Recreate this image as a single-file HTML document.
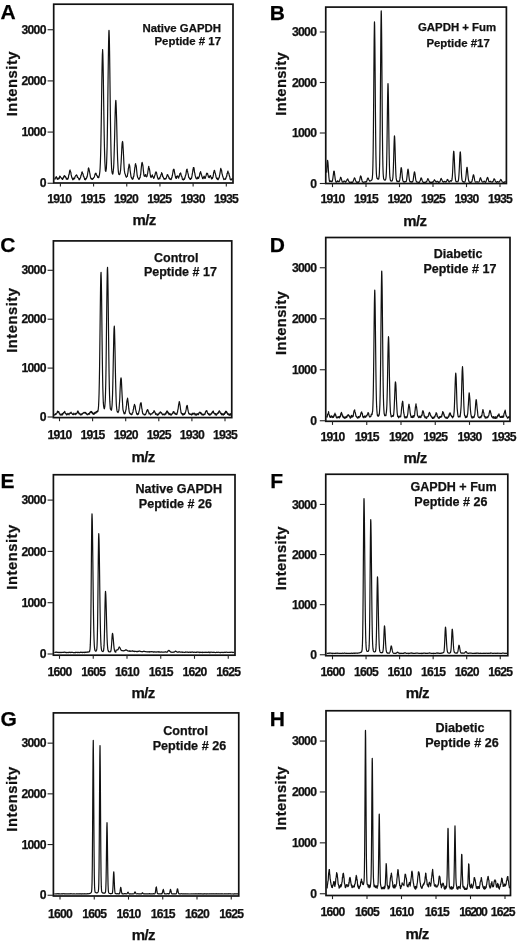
<!DOCTYPE html>
<html><head><meta charset="utf-8"><title>Figure</title>
<style>
html,body{margin:0;padding:0;background:#fff;}
body{width:520px;height:942px;overflow:hidden;font-family:"Liberation Sans",sans-serif;}
svg{display:block;will-change:transform;}
text{font-family:"Liberation Sans",sans-serif;font-weight:bold;fill:#111;stroke:#111;stroke-width:0.25px;}
.tk{font-size:12.2px;letter-spacing:-0.75px;}
.ax{font-size:14.8px;letter-spacing:0.5px;}
.mz{font-size:15px;letter-spacing:-0.6px;}
.lt{font-size:21px;fill:#000;}
.fr{fill:none;stroke:#111;stroke-width:1.7;}
.ti{stroke:#222;stroke-width:1.1;fill:none;}
.cv{fill:none;stroke:#111;stroke-width:1.2;stroke-linejoin:round;}
</style></head><body>
<svg width="520" height="942" viewBox="0 0 520 942">
<rect x="0" y="0" width="520" height="942" fill="#fff"/>

<g id="panelA">
<path class="cv" d="M54.60 179.7 54.85 179.4 55.10 178.0 55.35 178.2 55.60 177.6 55.85 178.0 56.10 177.0 56.35 176.7 56.60 178.0 56.85 177.5 57.10 178.0 57.35 179.4 57.60 178.7 57.85 179.1 58.10 178.7 58.35 179.1 58.60 178.3 58.85 177.9 59.10 178.7 59.35 178.2 59.60 176.8 59.85 176.0 60.10 177.0 60.20 176.7 60.35 176.5 60.60 177.1 60.85 177.4 61.10 177.8 61.35 178.2 61.60 178.1 61.85 178.9 62.10 179.0 62.35 178.4 62.60 179.5 62.85 178.4 63.10 177.8 63.35 178.1 63.60 177.7 63.85 176.2 64.10 176.7 64.35 176.5 64.60 175.9 64.60 175.5 64.85 176.6 65.10 176.5 65.35 177.0 65.60 176.7 65.85 177.8 66.10 177.6 66.35 179.1 66.60 179.1 66.85 178.7 67.10 178.4 67.35 179.1 67.60 179.3 67.85 179.1 68.10 178.0 68.35 177.9 68.60 175.9 68.85 174.7 69.10 174.5 69.35 173.1 69.60 171.0 69.85 170.5 70.10 170.0 70.10 170.7 70.35 171.3 70.60 171.9 70.85 172.2 71.10 174.4 71.35 175.5 71.60 176.6 71.85 177.5 72.10 178.2 72.35 177.9 72.60 179.4 72.85 179.8 73.10 178.4 73.35 178.6 73.60 178.4 73.85 179.2 74.10 178.2 74.35 177.9 74.60 178.7 74.85 177.4 75.10 176.6 75.35 176.2 75.60 175.8 75.85 175.6 76.10 175.2 76.30 175.2 76.35 175.5 76.60 174.9 76.85 175.8 77.10 175.6 77.35 177.5 77.60 176.8 77.85 177.7 78.10 177.7 78.35 178.1 78.60 178.3 78.85 179.0 79.10 179.9 79.35 178.7 79.60 179.5 79.85 179.1 80.10 178.2 80.35 178.0 80.60 177.5 80.85 175.8 81.10 175.4 81.35 174.8 81.60 173.9 81.85 172.1 82.10 172.3 82.20 171.8 82.35 172.6 82.60 173.3 82.85 173.6 83.10 174.1 83.35 176.2 83.60 176.1 83.85 176.7 84.10 177.5 84.35 177.9 84.60 179.5 84.85 178.7 85.10 178.4 85.35 179.8 85.60 179.4 85.85 179.3 86.10 178.7 86.35 178.5 86.60 178.0 86.85 176.7 87.10 177.0 87.35 175.6 87.60 174.0 87.85 172.4 88.10 170.9 88.35 168.3 88.60 167.9 88.70 169.1 88.85 168.5 89.10 169.6 89.35 170.8 89.60 172.2 89.85 173.3 90.10 174.9 90.35 176.5 90.60 177.7 90.85 178.1 91.10 178.9 91.35 178.5 91.60 178.4 91.85 179.0 92.10 179.5 92.35 179.4 92.60 179.0 92.85 178.6 93.10 178.2 93.35 178.7 93.60 177.7 93.85 177.6 94.10 177.4 94.35 176.9 94.60 175.9 94.85 174.7 95.10 174.4 95.35 173.3 95.60 173.4 95.70 173.7 95.85 173.2 96.10 173.3 96.35 174.9 96.60 175.0 96.85 175.7 97.10 175.6 97.35 176.0 97.60 177.3 97.85 176.6 98.10 176.9 98.35 177.7 98.60 177.2 98.85 177.5 99.10 175.9 99.35 175.3 99.60 173.6 99.85 171.6 100.10 168.3 100.35 162.9 100.60 155.4 100.85 145.5 101.10 131.1 101.35 115.9 101.60 97.8 101.85 79.2 102.10 65.2 102.35 54.6 102.60 50.9 102.60 49.6 102.85 54.4 103.10 64.9 103.35 78.7 103.60 97.3 103.85 113.8 104.10 130.1 104.35 143.3 104.60 153.5 104.85 161.6 105.10 166.3 105.35 170.5 105.60 170.8 105.85 171.4 106.10 170.0 106.35 168.5 106.60 163.0 106.85 155.8 107.10 147.2 107.35 133.3 107.60 116.1 107.85 96.2 108.10 76.7 108.35 57.4 108.60 41.8 108.85 32.1 109.00 30.4 109.10 31.6 109.35 39.2 109.60 53.7 109.85 72.6 110.10 93.1 110.35 113.5 110.60 130.3 110.85 143.7 111.10 155.4 111.35 162.5 111.60 168.5 111.85 170.9 112.10 172.6 112.35 173.6 112.60 174.1 112.85 173.8 113.10 172.4 113.35 169.9 113.60 167.8 113.85 163.1 114.10 155.3 114.35 146.5 114.60 137.2 114.85 126.5 115.10 115.7 115.35 107.8 115.60 102.2 115.80 100.8 115.85 100.3 116.10 103.9 116.35 111.1 116.60 120.0 116.85 130.4 117.10 142.0 117.35 150.8 117.60 159.0 117.85 164.0 118.10 168.5 118.35 171.6 118.60 173.3 118.85 174.5 119.10 174.1 119.35 174.4 119.60 174.6 119.85 173.9 120.10 173.3 120.35 171.3 120.60 170.2 120.85 165.9 121.10 162.7 121.35 157.8 121.60 153.0 121.85 147.6 122.10 143.8 122.35 142.0 122.50 141.7 122.60 141.5 122.85 143.2 123.10 147.6 123.35 151.8 123.60 156.7 123.85 162.4 124.10 167.1 124.35 170.4 124.60 172.0 124.85 173.5 125.10 173.9 125.35 174.5 125.60 175.8 125.85 176.3 126.10 176.7 126.35 177.3 126.60 176.7 126.85 176.5 127.10 176.0 127.35 176.3 127.60 174.0 127.85 173.3 128.10 171.1 128.35 168.6 128.60 167.6 128.85 166.1 129.10 164.1 129.20 164.9 129.35 165.0 129.60 165.6 129.85 167.1 130.10 170.3 130.35 171.9 130.60 173.7 130.85 175.3 131.10 177.0 131.35 177.3 131.60 177.3 131.85 178.6 132.10 178.5 132.35 179.3 132.60 179.0 132.85 178.2 133.10 178.8 133.35 177.0 133.60 176.2 133.85 176.3 134.10 173.4 134.35 172.4 134.60 169.6 134.85 167.4 135.10 166.2 135.35 164.3 135.60 163.8 135.60 163.6 135.85 164.9 136.10 165.5 136.35 167.1 136.60 169.8 136.85 172.2 137.10 174.8 137.35 175.8 137.60 177.2 137.85 177.4 138.10 178.0 138.35 178.4 138.60 179.2 138.85 178.5 139.10 178.5 139.35 179.1 139.60 177.7 139.85 177.6 140.10 177.7 140.35 175.2 140.60 174.9 140.85 172.6 141.10 169.6 141.35 167.3 141.60 165.1 141.85 163.1 142.10 162.4 142.20 162.6 142.35 163.0 142.60 164.3 142.85 165.2 143.10 167.5 143.35 170.3 143.60 172.2 143.85 174.6 144.10 175.9 144.35 176.2 144.60 175.4 144.85 176.3 145.10 175.1 145.35 175.2 145.60 174.5 145.85 175.7 146.10 176.4 146.35 176.8 146.60 176.8 146.85 176.2 147.10 176.1 147.35 174.1 147.60 173.8 147.85 171.7 148.10 170.3 148.35 168.7 148.60 166.7 148.80 166.5 148.85 167.4 149.10 168.0 149.35 168.8 149.60 169.9 149.85 171.6 150.10 173.5 150.35 175.2 150.60 176.9 150.85 177.1 151.10 177.5 151.35 176.6 151.60 175.9 151.85 175.9 152.10 175.6 152.35 174.9 152.60 176.7 152.85 176.2 153.10 176.8 153.35 177.3 153.60 178.5 153.85 178.2 154.10 177.8 154.35 177.1 154.60 175.8 154.85 175.3 155.10 174.9 155.35 173.0 155.60 172.8 155.85 172.1 156.00 171.8 156.10 173.0 156.35 172.2 156.60 173.1 156.85 174.4 157.10 175.4 157.35 176.5 157.60 177.8 157.85 177.9 158.10 179.2 158.35 178.7 158.60 178.7 158.85 179.0 159.10 178.8 159.35 178.0 159.60 177.8 159.85 178.6 160.10 176.9 160.35 176.4 160.60 176.4 160.85 175.1 161.10 174.5 161.35 174.2 161.60 173.3 161.60 172.6 161.85 173.8 162.10 173.5 162.35 174.5 162.60 176.3 162.85 176.0 163.10 177.2 163.35 177.3 163.60 178.1 163.85 178.4 164.10 179.3 164.35 178.6 164.60 178.5 164.85 178.5 165.10 179.1 165.35 178.4 165.60 178.6 165.85 178.8 166.10 178.4 166.35 177.7 166.60 176.8 166.85 176.3 167.10 175.2 167.35 174.5 167.50 174.7 167.60 175.0 167.85 174.8 168.10 175.9 168.35 176.3 168.60 176.5 168.85 177.7 169.10 178.6 169.35 177.8 169.60 178.4 169.85 179.2 170.10 179.3 170.35 179.1 170.60 178.9 170.85 179.5 171.10 179.6 171.35 179.0 171.60 177.6 171.85 177.9 172.10 176.4 172.35 175.5 172.60 174.0 172.85 172.5 173.10 170.6 173.35 169.8 173.60 169.4 173.70 169.2 173.85 169.3 174.10 169.5 174.35 171.4 174.60 173.0 174.85 173.9 175.10 175.4 175.35 176.1 175.60 178.0 175.85 177.9 176.10 178.0 176.35 178.4 176.60 176.4 176.85 177.0 177.10 176.7 177.35 175.8 177.60 176.5 177.85 176.2 178.10 177.2 178.35 177.9 178.60 178.1 178.85 176.8 179.10 176.9 179.35 175.3 179.60 175.0 179.85 173.5 180.10 173.9 180.35 173.7 180.40 173.7 180.60 172.9 180.85 173.7 181.10 174.9 181.35 176.2 181.60 176.1 181.85 176.5 182.10 177.7 182.35 179.2 182.60 179.5 182.85 179.6 183.10 179.6 183.35 179.9 183.60 179.9 183.85 178.9 184.10 178.4 184.35 179.4 184.60 177.9 184.85 178.3 185.10 177.1 185.35 176.1 185.60 175.0 185.85 175.1 186.10 173.2 186.35 171.4 186.60 169.7 186.85 170.4 187.00 170.0 187.10 169.1 187.35 170.9 187.60 171.5 187.85 172.9 188.10 173.8 188.35 174.7 188.60 177.1 188.85 177.1 189.10 177.7 189.35 178.0 189.60 178.7 189.85 178.3 190.10 179.3 190.35 179.2 190.60 179.4 190.85 178.4 191.10 178.6 191.35 178.6 191.60 178.1 191.85 176.3 192.10 175.2 192.35 173.6 192.60 172.4 192.85 170.5 193.10 169.5 193.35 167.5 193.60 168.3 193.60 167.5 193.85 167.5 194.10 168.6 194.35 171.1 194.60 172.6 194.85 173.3 195.10 175.2 195.35 176.0 195.60 176.9 195.85 178.2 196.10 177.8 196.35 178.2 196.60 178.8 196.85 178.6 197.10 178.8 197.35 178.1 197.60 177.1 197.85 178.5 198.10 177.8 198.35 178.5 198.60 178.3 198.85 177.0 199.10 176.9 199.35 176.3 199.60 175.1 199.85 173.3 200.10 172.6 200.35 173.1 200.50 172.6 200.60 171.5 200.85 173.1 201.10 173.3 201.35 174.5 201.60 175.0 201.85 176.2 202.10 176.8 202.35 177.7 202.60 178.6 202.85 178.6 203.10 178.6 203.35 177.0 203.60 177.8 203.85 177.7 204.10 176.2 204.35 177.7 204.60 176.9 204.85 178.5 205.10 177.9 205.35 178.1 205.60 176.7 205.85 176.3 206.10 175.5 206.35 174.4 206.60 173.4 206.85 173.8 207.10 173.2 207.10 173.4 207.35 174.1 207.60 173.5 207.85 174.7 208.10 175.1 208.35 176.9 208.60 177.0 208.85 177.4 209.10 177.0 209.35 177.7 209.60 176.7 209.85 175.9 210.10 176.3 210.35 175.6 210.60 175.8 210.85 177.0 211.10 177.4 211.35 178.1 211.60 179.0 211.85 178.9 212.10 177.7 212.35 178.5 212.60 177.7 212.85 177.5 213.10 176.3 213.35 175.2 213.60 172.7 213.85 171.9 214.10 170.9 214.35 170.3 214.40 170.9 214.60 170.6 214.85 171.9 215.10 173.1 215.35 173.4 215.60 174.7 215.85 175.7 216.10 177.4 216.35 177.6 216.60 178.6 216.85 178.0 217.10 178.3 217.35 179.4 217.60 178.4 217.85 179.6 218.10 179.7 218.35 178.5 218.60 178.9 218.85 178.1 219.10 177.2 219.35 177.2 219.60 174.9 219.85 174.2 220.10 172.3 220.35 171.0 220.60 169.1 220.85 168.3 221.00 169.0 221.10 169.3 221.35 169.6 221.60 170.6 221.85 172.6 222.10 174.1 222.35 174.6 222.60 176.0 222.85 176.5 223.10 177.3 223.35 177.9 223.60 179.0 223.85 179.6 224.10 179.4 224.35 179.2 224.60 179.2 224.85 179.1 225.10 179.3 225.35 178.4 225.60 179.1 225.85 178.5 226.10 177.3 226.35 176.7 226.60 176.6 226.85 175.5 227.10 173.4 227.35 173.5 227.60 172.4 227.85 171.2 228.00 171.1 228.10 171.7 228.35 172.4 228.60 173.0 228.85 173.2 229.10 175.0 229.35 175.3 229.60 176.6 229.85 177.1 230.10 179.2 230.35 179.3 230.60 179.8 230.85 179.3 231.10 179.5 231.35 179.9 231.60 179.0 231.85 179.4 232.10 178.7 232.35 178.2"/>
<rect class="fr" x="53.70" y="4.20" width="179.30" height="178.80"/>
<line class="ti" x1="47.60" y1="183.25" x2="53.70" y2="183.25"/>
<text class="tk" x="45.70" y="187.35" text-anchor="end">0</text>
<line class="ti" x1="47.60" y1="132.08" x2="53.70" y2="132.08"/>
<text class="tk" x="45.70" y="136.18" text-anchor="end">1000</text>
<line class="ti" x1="47.60" y1="80.91" x2="53.70" y2="80.91"/>
<text class="tk" x="45.70" y="85.01" text-anchor="end">2000</text>
<line class="ti" x1="47.60" y1="29.74" x2="53.70" y2="29.74"/>
<text class="tk" x="45.70" y="33.84" text-anchor="end">3000</text>
<line class="ti" x1="60.40" y1="183.00" x2="60.40" y2="186.60"/>
<text class="tk" x="59.30" y="202.50" text-anchor="middle">1910</text>
<line class="ti" x1="93.58" y1="183.00" x2="93.58" y2="186.60"/>
<text class="tk" x="92.63" y="202.50" text-anchor="middle">1915</text>
<line class="ti" x1="126.76" y1="183.00" x2="126.76" y2="186.60"/>
<text class="tk" x="125.96" y="202.50" text-anchor="middle">1920</text>
<line class="ti" x1="159.94" y1="183.00" x2="159.94" y2="186.60"/>
<text class="tk" x="159.29" y="202.50" text-anchor="middle">1925</text>
<line class="ti" x1="193.12" y1="183.00" x2="193.12" y2="186.60"/>
<text class="tk" x="192.62" y="202.50" text-anchor="middle">1930</text>
<line class="ti" x1="226.30" y1="183.00" x2="226.30" y2="186.60"/>
<text class="tk" x="225.95" y="202.50" text-anchor="middle">1935</text>
<text x="221.00" y="31.70" font-size="11.40" text-anchor="end">Native GAPDH</text>
<text x="221.00" y="44.70" font-size="11.40" text-anchor="end">Peptide # 17</text>
<text class="mz" x="144.15" y="225.00" text-anchor="middle">m/z</text>
<text class="lt" x="0.50" y="19.10">A</text>
<text class="ax" style="letter-spacing:0.50px" transform="translate(17.00 83.60) rotate(-90)" text-anchor="middle">Intensity</text>
</g>
<g id="panelB">
<path class="cv" d="M326.65 172.6 326.90 168.3 327.15 164.1 327.40 161.6 327.60 160.3 327.65 160.8 327.90 162.1 328.15 165.5 328.40 170.2 328.65 173.8 328.90 177.2 329.15 179.3 329.40 180.9 329.65 181.5 329.90 181.6 330.15 181.1 330.40 181.3 330.65 180.9 330.90 180.9 331.15 181.0 331.40 181.6 331.65 181.7 331.90 181.6 332.15 181.3 332.40 181.1 332.65 179.7 332.90 178.1 333.15 176.0 333.40 174.3 333.65 171.8 333.90 171.2 334.00 171.0 334.15 171.0 334.40 172.2 334.65 174.6 334.90 176.5 335.15 178.6 335.40 180.2 335.65 181.2 335.90 181.8 336.15 182.1 336.40 182.2 336.65 181.8 336.90 181.5 337.15 181.7 337.40 181.5 337.65 180.8 337.90 181.0 338.15 181.3 338.40 181.6 338.65 181.6 338.90 181.6 339.15 181.6 339.40 181.3 339.65 180.8 339.90 179.5 340.15 179.0 340.40 178.0 340.65 177.3 340.75 177.6 340.90 177.4 341.15 177.9 341.40 178.9 341.65 179.8 341.90 181.0 342.15 181.4 342.40 182.0 342.65 181.8 342.90 182.2 343.15 182.1 343.40 181.7 343.65 181.5 343.90 181.2 344.15 181.2 344.40 181.1 344.65 181.1 344.90 181.5 345.15 181.9 345.40 182.0 345.65 182.2 345.90 181.9 346.15 181.3 346.40 180.9 346.65 180.5 346.90 179.9 347.15 179.4 347.40 179.2 347.50 179.1 347.65 178.9 347.90 179.2 348.15 180.1 348.40 180.5 348.65 181.1 348.90 181.6 349.15 181.9 349.40 182.0 349.65 182.3 349.90 182.2 350.15 182.4 350.40 182.3 350.65 182.2 350.90 182.2 351.15 182.4 351.40 182.1 351.65 182.2 351.90 182.2 352.15 182.5 352.40 182.2 352.65 182.2 352.90 181.7 353.15 181.4 353.40 180.6 353.65 179.9 353.90 179.0 354.15 178.5 354.40 177.9 354.50 177.8 354.65 177.9 354.90 178.6 355.15 179.1 355.40 180.0 355.65 180.8 355.90 181.2 356.15 181.6 356.40 182.1 356.65 182.2 356.90 182.4 357.15 182.1 357.40 182.0 357.65 182.3 357.90 182.2 358.15 182.1 358.40 182.1 358.65 182.3 358.90 181.8 359.15 181.5 359.40 180.9 359.65 180.2 359.90 178.9 360.15 177.5 360.40 176.5 360.65 175.9 360.75 176.2 360.90 176.2 361.15 176.8 361.40 177.8 361.65 179.3 361.90 180.1 362.15 181.0 362.40 181.8 362.65 181.9 362.90 182.2 363.15 182.3 363.40 182.3 363.65 182.2 363.90 182.2 364.15 182.1 364.40 182.1 364.65 181.8 364.90 181.8 365.15 181.8 365.40 181.8 365.65 182.1 365.90 181.7 366.15 182.1 366.40 181.7 366.65 181.4 366.90 180.7 367.15 180.1 367.40 178.9 367.65 178.5 367.90 178.3 368.00 177.9 368.15 178.2 368.40 178.4 368.65 179.2 368.90 179.8 369.15 180.2 369.40 180.7 369.65 181.1 369.90 180.9 370.15 180.9 370.40 180.9 370.65 180.9 370.90 180.5 371.15 180.5 371.40 180.2 371.65 180.0 371.90 179.8 372.15 179.1 372.40 176.9 372.65 173.5 372.90 165.8 373.15 151.9 373.40 130.5 373.65 101.9 373.90 69.1 374.15 39.9 374.40 23.6 374.50 21.9 374.65 25.6 374.90 45.3 375.15 75.3 375.40 107.8 375.65 134.9 375.90 154.6 376.15 167.0 376.40 173.7 376.65 176.5 376.90 178.0 377.15 178.6 377.40 178.8 377.65 178.6 377.90 179.0 378.15 179.2 378.40 179.1 378.65 179.1 378.90 178.0 379.15 176.2 379.40 172.3 379.65 163.8 379.90 149.3 380.15 126.9 380.40 95.9 380.65 61.3 380.90 30.0 381.15 12.3 381.25 10.9 381.40 14.7 381.65 35.9 381.90 67.9 382.15 102.8 382.40 131.9 382.65 153.1 382.90 166.1 383.15 173.3 383.40 176.8 383.65 178.8 383.90 179.2 384.15 179.8 384.40 179.9 384.65 180.1 384.90 180.2 385.15 180.0 385.40 179.9 385.65 179.5 385.90 178.3 386.15 176.1 386.40 171.7 386.65 163.3 386.90 150.1 387.15 132.3 387.40 112.4 387.65 94.9 387.90 85.0 388.00 83.6 388.15 86.0 388.40 98.0 388.65 116.6 388.90 136.4 389.15 153.4 389.40 165.3 389.65 173.1 389.90 177.2 390.15 179.0 390.40 180.3 390.65 180.7 390.90 180.6 391.15 181.2 391.40 180.8 391.65 180.9 391.90 181.0 392.15 180.9 392.40 180.2 392.65 179.0 392.90 177.3 393.15 173.2 393.40 167.1 393.65 158.9 393.90 149.6 394.15 141.4 394.40 136.4 394.50 135.9 394.65 137.3 394.90 142.9 395.15 151.3 395.40 160.6 395.65 168.6 395.90 174.7 396.15 177.9 396.40 179.6 396.65 180.6 396.90 181.2 397.15 181.7 397.40 181.2 397.65 181.6 397.90 181.3 398.15 181.2 398.40 181.4 398.65 181.8 398.90 181.7 399.15 181.2 399.40 181.3 399.65 180.3 399.90 179.0 400.15 177.2 400.40 174.3 400.65 171.8 400.90 169.2 401.15 167.7 401.25 167.7 401.40 168.0 401.65 169.4 401.90 172.0 402.15 174.8 402.40 177.7 402.65 179.5 402.90 180.8 403.15 181.3 403.40 181.7 403.65 181.6 403.90 182.0 404.15 182.1 404.40 181.7 404.65 181.9 404.90 181.6 405.15 181.7 405.40 181.6 405.65 181.8 405.90 181.6 406.15 181.5 406.40 180.7 406.65 179.6 406.90 177.6 407.15 175.4 407.40 173.1 407.65 170.8 407.90 169.4 408.00 169.1 408.15 169.7 408.40 170.9 408.65 173.3 408.90 176.1 409.15 178.1 409.40 180.0 409.65 181.1 409.90 181.4 410.15 181.9 410.40 181.6 410.65 181.8 410.90 181.9 411.15 181.6 411.40 182.1 411.65 181.8 411.90 182.2 412.15 182.2 412.40 181.6 412.65 181.5 412.90 181.2 413.15 180.3 413.40 178.4 413.65 176.7 413.90 174.5 414.15 173.1 414.40 171.8 414.50 171.9 414.65 172.1 414.90 173.3 415.15 175.0 415.40 177.2 415.65 179.0 415.90 180.5 416.15 181.0 416.40 181.6 416.65 181.8 416.90 182.2 417.15 182.0 417.40 182.2 417.65 182.2 417.90 182.2 418.15 182.1 418.40 182.3 418.65 182.5 418.90 182.5 419.15 182.3 419.40 182.3 419.65 181.6 419.90 181.4 420.15 180.6 420.40 180.3 420.65 179.2 420.90 178.2 421.15 177.9 421.25 178.0 421.40 178.1 421.65 178.8 421.90 179.5 422.15 180.4 422.40 181.0 422.65 181.6 422.90 181.7 423.15 182.3 423.40 182.3 423.65 182.4 423.90 182.5 424.15 182.4 424.40 182.5 424.65 182.3 424.90 182.6 425.15 182.1 425.40 182.4 425.65 182.0 425.90 182.1 426.15 182.0 426.40 181.9 426.65 181.3 426.90 181.3 427.15 180.3 427.40 179.8 427.65 179.0 427.90 178.6 428.00 178.9 428.15 178.9 428.40 179.5 428.65 180.0 428.90 180.8 429.15 181.2 429.40 181.4 429.65 182.0 429.90 182.3 430.15 182.3 430.40 182.4 430.65 182.2 430.90 182.2 431.15 182.5 431.40 182.5 431.65 182.2 431.90 182.1 432.15 182.2 432.40 182.3 432.65 181.9 432.90 182.3 433.15 182.1 433.40 181.4 433.65 181.1 433.90 180.9 434.15 180.2 434.40 179.7 434.50 180.0 434.65 180.1 434.90 180.5 435.15 180.9 435.40 180.9 435.65 181.6 435.90 181.6 436.15 182.1 436.40 181.9 436.65 181.8 436.90 181.4 437.15 181.4 437.40 181.3 437.65 181.4 437.90 181.7 438.15 182.1 438.40 182.3 438.65 181.9 438.90 182.4 439.15 182.2 439.40 182.1 439.65 181.9 439.90 181.7 440.15 181.1 440.40 180.5 440.65 179.5 440.90 178.6 441.15 178.4 441.25 178.3 441.40 178.7 441.65 179.2 441.90 179.6 442.15 180.4 442.40 181.0 442.65 181.6 442.90 181.8 443.15 181.9 443.40 181.8 443.65 182.0 443.90 181.7 444.15 181.3 444.40 181.5 444.65 181.6 444.90 181.6 445.15 182.0 445.40 181.7 445.65 181.8 445.90 182.0 446.15 181.9 446.40 181.5 446.65 180.9 446.90 180.5 447.15 179.8 447.40 179.4 447.50 179.6 447.65 179.8 447.90 179.7 448.15 180.6 448.40 181.0 448.65 181.4 448.90 181.7 449.15 182.0 449.40 181.8 449.65 181.7 449.90 181.2 450.15 181.0 450.40 180.6 450.65 180.7 450.90 180.8 451.15 181.1 451.40 181.2 451.65 180.8 451.90 180.1 452.15 178.2 452.40 175.5 452.65 171.2 452.90 165.9 453.15 159.4 453.40 154.4 453.65 151.5 453.75 151.2 453.90 151.8 454.15 155.3 454.40 160.7 454.65 167.0 454.90 172.5 455.15 176.1 455.40 178.8 455.65 180.6 455.90 181.4 456.15 181.7 456.40 181.8 456.65 181.6 456.90 181.5 457.15 181.7 457.40 181.9 457.65 181.7 457.90 181.6 458.15 181.2 458.40 180.5 458.65 178.5 458.90 175.6 459.15 171.5 459.40 166.5 459.65 160.3 459.90 155.4 460.15 152.1 460.25 152.0 460.40 152.4 460.65 155.9 460.90 161.7 461.15 167.5 461.40 172.4 461.65 176.5 461.90 179.1 462.15 180.5 462.40 181.1 462.65 181.4 462.90 181.8 463.15 181.6 463.40 181.9 463.65 182.2 463.90 181.8 464.15 182.0 464.40 182.2 464.65 181.6 464.90 181.9 465.15 181.2 465.40 180.4 465.65 178.8 465.90 177.0 466.15 174.5 466.40 171.5 466.65 169.0 466.90 167.3 467.00 167.3 467.15 167.4 467.40 169.4 467.65 172.1 467.90 175.0 468.15 177.2 468.40 179.2 468.65 180.5 468.90 181.4 469.15 181.9 469.40 182.2 469.65 181.9 469.90 182.1 470.15 182.4 470.40 182.3 470.65 182.4 470.90 182.0 471.15 181.9 471.40 182.2 471.65 181.6 471.90 181.5 472.15 180.6 472.40 179.5 472.65 178.2 472.90 176.7 473.15 175.6 473.40 175.1 473.50 174.8 473.65 174.9 473.90 176.0 474.15 177.2 474.40 178.7 474.65 180.2 474.90 181.0 475.15 181.6 475.40 181.9 475.65 182.0 475.90 182.2 476.15 181.9 476.40 181.9 476.65 181.8 476.90 181.9 477.15 181.9 477.40 182.0 477.65 181.9 477.90 182.2 478.15 182.1 478.40 182.0 478.65 182.0 478.90 181.9 479.15 181.6 479.40 181.0 479.65 180.1 479.90 179.1 480.15 178.3 480.40 177.9 480.50 178.1 480.65 177.8 480.90 178.7 481.15 179.2 481.40 180.4 481.65 180.8 481.90 181.4 482.15 181.6 482.40 181.9 482.65 182.1 482.90 182.0 483.15 182.0 483.40 181.9 483.65 181.9 483.90 181.5 484.15 181.2 484.40 181.6 484.65 181.4 484.90 181.8 485.15 182.0 485.40 182.3 485.65 182.0 485.90 181.9 486.15 181.2 486.40 180.4 486.65 179.5 486.90 178.7 487.15 178.0 487.40 177.7 487.50 177.3 487.65 177.5 487.90 178.0 488.15 179.1 488.40 179.7 488.65 180.9 488.90 181.5 489.15 181.8 489.40 181.7 489.65 181.5 489.90 181.7 490.15 181.3 490.40 181.2 490.65 181.7 490.90 182.0 491.15 181.9 491.40 181.9 491.65 182.0 491.90 182.1 492.15 182.2 492.40 182.1 492.65 181.9 492.90 181.3 493.15 181.2 493.40 180.5 493.65 179.7 493.90 178.8 494.15 178.9 494.25 179.0 494.40 179.0 494.65 179.2 494.90 179.8 495.15 180.7 495.40 181.4 495.65 181.6 495.90 181.9 496.15 182.0 496.40 182.0 496.65 182.4 496.90 182.1 497.15 181.7 497.40 181.6 497.65 181.9 497.90 181.6 498.15 181.8 498.40 181.8 498.65 182.2 498.90 182.0 499.15 181.8 499.40 181.7 499.65 181.6 499.90 181.0 500.15 180.5 500.40 180.0 500.65 179.7 500.75 179.4 500.90 179.7 501.15 179.7 501.40 180.2 501.65 180.8 501.90 181.3 502.15 181.7 502.40 181.8 502.65 182.0 502.90 182.2 503.15 182.1 503.40 182.5 503.65 182.5 503.90 182.5 504.15 182.4 504.40 182.2 504.65 182.0 504.90 181.7 505.15 181.5 505.40 181.9 505.65 181.8"/>
<rect class="fr" x="325.75" y="7.10" width="180.65" height="176.40"/>
<line class="ti" x1="319.80" y1="183.50" x2="325.75" y2="183.50"/>
<text class="tk" x="316.20" y="187.60" text-anchor="end">0</text>
<line class="ti" x1="319.80" y1="133.00" x2="325.75" y2="133.00"/>
<text class="tk" x="316.20" y="137.10" text-anchor="end">1000</text>
<line class="ti" x1="319.80" y1="82.50" x2="325.75" y2="82.50"/>
<text class="tk" x="316.20" y="86.60" text-anchor="end">2000</text>
<line class="ti" x1="319.80" y1="32.00" x2="325.75" y2="32.00"/>
<text class="tk" x="316.20" y="36.10" text-anchor="end">3000</text>
<line class="ti" x1="332.50" y1="183.50" x2="332.50" y2="187.10"/>
<text class="tk" x="332.50" y="203.00" text-anchor="middle">1910</text>
<line class="ti" x1="366.00" y1="183.50" x2="366.00" y2="187.10"/>
<text class="tk" x="366.00" y="203.00" text-anchor="middle">1915</text>
<line class="ti" x1="399.50" y1="183.50" x2="399.50" y2="187.10"/>
<text class="tk" x="399.50" y="203.00" text-anchor="middle">1920</text>
<line class="ti" x1="433.00" y1="183.50" x2="433.00" y2="187.10"/>
<text class="tk" x="433.00" y="203.00" text-anchor="middle">1925</text>
<line class="ti" x1="466.50" y1="183.50" x2="466.50" y2="187.10"/>
<text class="tk" x="466.50" y="203.00" text-anchor="middle">1930</text>
<line class="ti" x1="500.00" y1="183.50" x2="500.00" y2="187.10"/>
<text class="tk" x="500.00" y="203.00" text-anchor="middle">1935</text>
<text x="457.10" y="31.00" font-size="11.40" text-anchor="middle">GAPDH + Fum</text>
<text x="458.10" y="47.00" font-size="11.40" text-anchor="middle">Peptide #17</text>
<text class="mz" x="414.85" y="225.50" text-anchor="middle">m/z</text>
<text class="lt" x="269.80" y="19.50">B</text>
<text class="ax" style="letter-spacing:0.35px" transform="translate(286.00 83.80) rotate(-90)" text-anchor="middle">Intensity</text>
</g>
<g id="panelC">
<path class="cv" d="M54.30 415.1 54.55 414.5 54.80 415.2 55.05 414.2 55.30 414.0 55.55 414.3 55.80 413.7 56.05 414.4 56.30 413.6 56.55 413.4 56.80 413.1 57.05 412.8 57.30 411.8 57.55 411.2 57.80 411.7 58.00 411.4 58.05 412.3 58.30 411.5 58.55 411.8 58.80 411.7 59.05 412.4 59.30 413.7 59.55 413.9 59.80 413.7 60.05 414.9 60.30 414.4 60.55 414.9 60.80 415.0 61.05 415.1 61.30 414.0 61.55 415.0 61.80 414.8 62.05 414.6 62.30 413.7 62.55 414.9 62.80 414.1 63.05 413.8 63.30 413.0 63.55 412.7 63.80 412.3 64.05 412.8 64.30 412.4 64.55 412.3 64.60 411.5 64.80 411.4 65.05 412.9 65.30 413.2 65.55 413.5 65.80 413.8 66.05 413.7 66.30 413.8 66.55 414.5 66.80 415.0 67.05 414.3 67.30 414.4 67.55 414.0 67.80 413.4 68.05 413.8 68.30 414.1 68.55 414.0 68.80 413.9 69.05 414.9 69.30 413.5 69.55 413.5 69.80 413.2 70.05 413.0 70.30 413.3 70.55 413.0 70.80 413.2 71.05 412.2 71.20 413.0 71.30 413.0 71.55 413.0 71.80 413.3 72.05 413.3 72.30 414.1 72.55 414.4 72.80 414.4 73.05 414.6 73.30 414.2 73.55 414.6 73.80 413.2 74.05 413.4 74.30 414.1 74.55 414.0 74.80 414.0 75.05 414.1 75.30 414.6 75.55 413.5 75.80 413.3 76.05 413.9 76.30 413.6 76.55 413.9 76.80 413.5 77.05 412.6 77.30 412.4 77.55 411.2 77.80 412.2 77.80 412.4 78.05 411.0 78.30 412.0 78.55 413.0 78.80 412.8 79.05 414.0 79.30 413.6 79.55 413.2 79.80 413.6 80.05 414.0 80.30 414.7 80.55 414.6 80.80 415.0 81.05 414.0 81.30 414.4 81.55 414.0 81.80 414.7 82.05 414.7 82.30 413.7 82.55 413.3 82.80 413.4 83.05 413.2 83.30 412.9 83.55 412.6 83.80 413.1 84.05 412.3 84.30 412.4 84.50 412.8 84.55 412.9 84.80 412.6 85.05 412.8 85.30 412.5 85.55 412.4 85.80 413.6 86.05 413.1 86.30 413.2 86.55 413.4 86.80 414.4 87.05 414.7 87.30 414.7 87.55 414.8 87.80 414.7 88.05 414.1 88.30 413.6 88.55 413.6 88.80 414.1 89.05 413.7 89.30 413.2 89.55 414.1 89.80 412.9 90.05 412.2 90.30 412.0 90.55 411.8 90.80 412.0 91.00 412.4 91.05 411.4 91.30 412.2 91.55 411.7 91.80 411.7 92.05 413.0 92.30 413.3 92.55 412.7 92.80 413.2 93.05 414.2 93.30 414.3 93.55 414.3 93.80 413.0 94.05 413.1 94.30 414.1 94.55 412.9 94.80 412.5 95.05 412.8 95.30 413.0 95.55 412.5 95.80 413.0 96.00 413.1 96.05 411.6 96.30 412.0 96.55 412.1 96.80 411.4 97.05 412.1 97.30 411.3 97.55 411.0 97.80 411.5 98.05 410.5 98.30 408.8 98.55 406.1 98.80 400.9 99.05 394.1 99.30 383.0 99.55 368.7 99.80 348.9 100.05 328.6 100.30 306.9 100.55 288.1 100.80 275.4 101.00 272.9 101.05 272.3 101.30 279.8 101.55 294.8 101.80 314.9 102.05 337.2 102.30 356.8 102.55 374.2 102.80 387.5 103.05 395.5 103.30 402.4 103.55 405.5 103.80 407.1 104.05 408.3 104.30 408.8 104.55 408.0 104.80 406.6 105.05 403.5 105.30 400.0 105.55 391.8 105.80 381.2 106.05 366.0 106.30 346.0 106.55 324.6 106.80 302.3 107.05 282.8 107.30 270.0 107.50 267.5 107.55 267.4 107.80 274.7 108.05 290.4 108.30 311.0 108.55 333.8 108.80 354.7 109.05 372.5 109.30 385.4 109.55 395.4 109.80 401.4 110.05 405.2 110.30 408.5 110.55 409.2 110.80 409.2 111.05 409.5 111.30 410.3 111.55 409.6 111.80 407.6 112.05 405.5 112.30 400.8 112.55 394.5 112.80 384.6 113.05 373.0 113.30 359.9 113.55 347.9 113.80 335.6 114.05 328.2 114.25 327.1 114.30 326.1 114.55 330.2 114.80 340.8 115.05 352.1 115.30 366.3 115.55 378.8 115.80 388.5 116.05 396.9 116.30 403.7 116.55 407.1 116.80 409.3 117.05 410.9 117.30 411.9 117.55 412.1 117.80 411.6 118.05 412.7 118.30 411.6 118.55 411.2 118.80 410.7 119.05 408.4 119.30 405.3 119.55 401.7 119.80 397.7 120.05 390.9 120.30 385.7 120.55 380.7 120.80 378.9 121.00 377.9 121.05 378.3 121.30 378.9 121.55 383.6 121.80 389.1 122.05 394.2 122.30 398.7 122.55 403.3 122.80 407.6 123.05 410.2 123.30 410.6 123.55 412.1 123.80 412.4 124.05 413.7 124.30 413.9 124.55 412.9 124.80 413.3 125.05 413.6 125.30 411.8 125.55 411.5 125.80 410.1 126.05 409.6 126.30 406.4 126.55 405.4 126.80 401.9 127.05 400.5 127.30 399.4 127.50 398.7 127.55 398.1 127.80 399.9 128.05 401.8 128.30 403.4 128.55 406.2 128.80 408.7 129.05 410.5 129.30 412.1 129.55 412.9 129.80 413.4 130.05 413.8 130.30 413.3 130.55 414.2 130.80 413.9 131.05 414.5 131.30 414.2 131.55 414.7 131.80 414.2 132.05 414.4 132.30 413.0 132.55 412.8 132.80 412.7 133.05 411.2 133.30 409.3 133.55 409.2 133.80 406.6 134.05 405.9 134.30 405.0 134.50 404.3 134.55 405.0 134.80 405.2 135.05 406.0 135.30 406.9 135.55 409.4 135.80 410.0 136.05 411.3 136.30 412.3 136.55 413.3 136.80 413.8 137.05 414.5 137.30 414.5 137.55 414.7 137.80 413.6 138.05 414.3 138.30 414.2 138.55 414.0 138.80 412.2 139.05 411.3 139.30 410.4 139.55 409.4 139.80 407.8 140.05 405.9 140.30 404.1 140.55 403.6 140.75 402.9 140.80 403.2 141.05 402.7 141.30 403.9 141.55 406.3 141.80 408.5 142.05 409.1 142.30 411.5 142.55 412.5 142.80 413.8 143.05 413.8 143.30 413.9 143.55 414.1 143.80 414.6 144.05 414.2 144.30 415.0 144.55 414.6 144.80 414.8 145.05 414.3 145.30 414.7 145.55 414.5 145.80 413.8 146.05 413.4 146.30 412.3 146.55 411.8 146.80 410.8 147.05 410.4 147.30 409.9 147.50 409.6 147.55 410.3 147.80 410.6 148.05 410.1 148.30 412.0 148.55 411.8 148.80 412.5 149.05 414.0 149.30 413.1 149.55 413.3 149.80 413.9 150.05 413.9 150.30 413.8 150.55 414.9 150.80 414.3 151.05 414.3 151.30 413.8 151.55 413.8 151.80 413.7 152.05 413.9 152.30 413.1 152.55 413.1 152.80 412.6 153.05 412.9 153.30 412.7 153.55 412.1 153.80 411.4 154.00 411.8 154.05 410.6 154.30 411.2 154.55 411.5 154.80 411.9 155.05 412.4 155.30 413.2 155.55 414.3 155.80 413.4 156.05 413.7 156.30 414.2 156.55 414.3 156.80 414.1 157.05 415.1 157.30 414.0 157.55 414.8 157.80 415.1 158.05 414.7 158.30 414.0 158.55 414.7 158.80 413.7 159.05 413.1 159.30 413.6 159.55 413.4 159.80 412.9 160.05 412.2 160.30 411.8 160.55 411.9 160.60 411.9 160.80 412.8 161.05 412.9 161.30 413.1 161.55 412.7 161.80 413.7 162.05 413.6 162.30 414.7 162.55 414.8 162.80 414.6 163.05 414.1 163.30 414.1 163.55 414.1 163.80 414.8 164.05 414.4 164.30 414.5 164.55 414.4 164.80 414.9 165.05 413.6 165.30 414.5 165.55 413.1 165.80 412.8 166.05 413.9 166.30 412.7 166.55 411.7 166.80 411.1 167.05 411.7 167.20 412.0 167.30 412.1 167.55 411.1 167.80 412.6 168.05 412.4 168.30 413.6 168.55 413.4 168.80 413.0 169.05 414.6 169.30 413.7 169.55 414.3 169.80 413.7 170.05 414.1 170.30 414.8 170.55 413.8 170.80 414.4 171.05 415.1 171.30 415.0 171.55 414.1 171.80 414.0 172.05 414.0 172.30 414.0 172.55 413.3 172.80 413.0 173.05 411.8 173.30 412.9 173.50 411.7 173.55 411.6 173.80 412.8 174.05 411.8 174.30 412.5 174.55 412.5 174.80 413.8 175.05 413.9 175.30 414.1 175.55 413.3 175.80 414.0 176.05 414.4 176.30 414.2 176.55 414.3 176.80 414.5 177.05 414.0 177.30 412.2 177.55 412.1 177.80 409.9 178.05 409.3 178.30 407.5 178.55 405.2 178.80 404.1 179.05 402.8 179.25 401.6 179.30 401.7 179.55 402.5 179.80 404.0 180.05 405.3 180.30 407.2 180.55 409.5 180.80 410.7 181.05 412.9 181.30 412.7 181.55 413.6 181.80 413.5 182.05 413.8 182.30 414.5 182.55 414.9 182.80 413.6 183.05 414.9 183.30 414.3 183.55 414.5 183.80 414.6 184.05 413.8 184.30 413.4 184.55 414.3 184.80 413.4 185.05 413.6 185.30 412.5 185.55 411.9 185.80 411.1 186.05 409.9 186.30 408.5 186.55 406.3 186.80 406.2 187.00 406.4 187.05 405.4 187.30 405.7 187.55 407.4 187.80 409.1 188.05 410.3 188.30 411.7 188.55 412.4 188.80 413.6 189.05 413.9 189.30 414.2 189.55 414.0 189.80 413.6 190.05 413.9 190.30 414.5 190.55 414.5 190.80 414.3 191.05 414.6 191.30 414.6 191.55 415.0 191.80 414.6 192.05 413.4 192.30 414.6 192.55 413.9 192.80 413.6 193.05 413.1 193.30 414.0 193.50 413.9 193.55 414.0 193.80 413.8 194.05 413.8 194.30 413.1 194.55 413.5 194.80 413.5 195.05 415.0 195.30 415.1 195.55 414.1 195.80 413.8 196.05 414.5 196.30 414.3 196.55 415.2 196.80 414.6 197.05 413.8 197.30 413.9 197.55 413.8 197.80 413.6 198.05 414.6 198.30 414.7 198.55 414.4 198.80 413.6 199.05 413.1 199.30 412.4 199.55 412.5 199.80 412.4 200.00 412.2 200.05 412.7 200.30 412.6 200.55 413.6 200.80 412.7 201.05 413.9 201.30 413.1 201.55 413.7 201.80 414.5 202.05 414.9 202.30 414.7 202.55 414.2 202.80 414.1 203.05 415.0 203.30 415.1 203.55 414.4 203.80 414.2 204.05 414.5 204.30 414.6 204.55 413.9 204.80 414.5 205.05 413.7 205.30 413.0 205.55 411.7 205.80 411.7 206.05 410.9 206.30 411.2 206.50 411.5 206.55 411.5 206.80 410.6 207.05 411.3 207.30 412.4 207.55 413.4 207.80 413.2 208.05 413.3 208.30 414.0 208.55 414.5 208.80 414.0 209.05 413.7 209.30 414.8 209.55 415.1 209.80 414.7 210.05 414.5 210.30 414.1 210.55 414.8 210.80 413.8 211.05 413.7 211.30 413.9 211.55 414.0 211.80 412.5 212.05 413.1 212.30 411.8 212.55 412.4 212.80 412.1 213.00 411.2 213.05 411.9 213.30 411.1 213.55 412.1 213.80 413.0 214.05 413.4 214.30 413.5 214.55 413.4 214.80 413.3 215.05 414.7 215.30 414.4 215.55 414.8 215.80 413.7 216.05 415.0 216.30 415.1 216.55 415.1 216.80 414.5 217.05 413.7 217.30 413.6 217.55 413.7 217.80 413.0 218.05 412.7 218.30 413.2 218.55 413.0 218.80 411.3 219.05 411.1 219.30 411.9 219.50 410.9 219.55 411.3 219.80 411.5 220.05 411.9 220.30 412.7 220.55 413.4 220.80 413.5 221.05 413.8 221.30 413.2 221.55 414.7 221.80 413.5 222.05 414.8 222.30 414.6 222.55 413.9 222.80 413.9 223.05 414.5 223.30 415.1 223.55 414.4 223.80 414.4 224.05 413.4 224.30 414.4 224.55 413.8 224.80 412.6 225.05 413.5 225.30 412.5 225.55 411.4 225.80 411.3 226.00 412.3 226.05 412.4 226.30 412.5 226.55 411.4 226.80 412.9 227.05 412.6 227.30 412.7 227.55 414.0 227.80 414.4 228.05 413.5 228.30 414.1 228.55 414.8 228.80 414.1 229.05 414.8 229.30 414.8 229.55 415.3 229.80 414.1 230.05 413.8 230.30 414.3 230.55 413.8 230.80 415.2 231.05 414.9"/>
<rect class="fr" x="53.40" y="240.90" width="178.35" height="176.70"/>
<line class="ti" x1="47.60" y1="417.00" x2="53.40" y2="417.00"/>
<text class="tk" x="45.70" y="421.10" text-anchor="end">0</text>
<line class="ti" x1="47.60" y1="368.10" x2="53.40" y2="368.10"/>
<text class="tk" x="45.70" y="372.20" text-anchor="end">1000</text>
<line class="ti" x1="47.60" y1="319.20" x2="53.40" y2="319.20"/>
<text class="tk" x="45.70" y="323.30" text-anchor="end">2000</text>
<line class="ti" x1="47.60" y1="270.30" x2="53.40" y2="270.30"/>
<text class="tk" x="45.70" y="274.40" text-anchor="end">3000</text>
<line class="ti" x1="59.50" y1="417.60" x2="59.50" y2="421.20"/>
<text class="tk" x="59.50" y="439.00" text-anchor="middle">1910</text>
<line class="ti" x1="92.60" y1="417.60" x2="92.60" y2="421.20"/>
<text class="tk" x="92.60" y="439.00" text-anchor="middle">1915</text>
<line class="ti" x1="125.70" y1="417.60" x2="125.70" y2="421.20"/>
<text class="tk" x="125.70" y="439.00" text-anchor="middle">1920</text>
<line class="ti" x1="158.80" y1="417.60" x2="158.80" y2="421.20"/>
<text class="tk" x="158.80" y="439.00" text-anchor="middle">1925</text>
<line class="ti" x1="191.90" y1="417.60" x2="191.90" y2="421.20"/>
<text class="tk" x="191.90" y="439.00" text-anchor="middle">1930</text>
<line class="ti" x1="225.00" y1="417.60" x2="225.00" y2="421.20"/>
<text class="tk" x="225.00" y="439.00" text-anchor="middle">1935</text>
<text x="176.25" y="262.00" font-size="12.50" text-anchor="middle">Control</text>
<text x="180.40" y="276.20" font-size="12.50" text-anchor="middle">Peptide # 17</text>
<text class="mz" x="143.05" y="461.75" text-anchor="middle">m/z</text>
<text class="lt" x="0.30" y="252.00">C</text>
<text class="ax" style="letter-spacing:0.50px" transform="translate(17.00 320.20) rotate(-90)" text-anchor="middle">Intensity</text>
</g>
<g id="panelD">
<path class="cv" d="M326.65 416.2 326.90 417.0 327.15 417.1 327.40 415.4 327.65 414.2 327.90 414.3 328.15 413.8 328.40 412.9 328.50 411.7 328.65 412.2 328.90 413.9 329.15 414.5 329.40 415.7 329.65 416.6 329.90 415.8 330.15 417.4 330.40 416.9 330.65 417.1 330.90 417.4 331.15 416.1 331.40 417.0 331.65 415.8 331.90 416.9 332.15 416.6 332.40 417.3 332.65 417.5 332.90 416.3 333.15 416.6 333.40 417.4 333.65 415.9 333.90 416.7 334.15 415.8 334.40 414.3 334.65 414.2 334.90 414.9 335.00 413.2 335.15 414.7 335.40 415.0 335.65 414.6 335.90 416.1 336.15 416.7 336.40 417.6 336.65 417.9 336.90 417.1 337.15 417.9 337.40 417.3 337.65 417.7 337.90 417.6 338.15 416.6 338.40 417.5 338.65 417.4 338.90 416.8 339.15 418.0 339.40 418.0 339.65 416.4 339.90 416.3 340.15 416.9 340.40 416.4 340.65 414.6 340.90 413.4 341.15 414.1 341.40 412.3 341.50 412.4 341.65 413.0 341.90 413.8 342.15 415.1 342.40 416.1 342.65 415.1 342.90 417.0 343.15 416.6 343.40 417.7 343.65 416.8 343.90 417.3 344.15 417.9 344.40 418.1 344.65 417.1 344.90 418.3 345.15 418.0 345.40 417.4 345.65 416.8 345.90 417.2 346.15 417.7 346.40 416.3 346.65 417.4 346.90 417.3 347.15 416.3 347.40 415.5 347.65 415.7 347.90 415.3 348.00 414.9 348.15 414.5 348.40 415.7 348.65 415.7 348.90 415.2 349.15 415.6 349.40 416.6 349.65 416.8 349.90 417.1 350.15 418.0 350.40 418.1 350.65 418.0 350.90 416.0 351.15 416.1 351.40 415.4 351.65 417.1 351.90 416.0 352.15 416.6 352.40 416.3 352.65 417.0 352.90 415.4 353.15 416.5 353.40 414.7 353.65 413.1 353.90 411.5 354.15 410.8 354.40 410.2 354.50 410.0 354.65 409.9 354.90 411.7 355.15 412.2 355.40 413.1 355.65 414.3 355.90 416.1 356.15 416.1 356.40 416.3 356.65 417.1 356.90 417.1 357.15 417.7 357.40 417.3 357.65 417.3 357.90 418.3 358.15 417.2 358.40 416.5 358.65 416.8 358.90 417.0 359.15 417.6 359.40 416.8 359.65 416.9 359.90 416.8 360.15 415.5 360.40 416.1 360.65 413.9 360.90 414.3 361.15 412.4 361.40 412.2 361.50 412.6 361.65 411.8 361.90 412.7 362.15 413.4 362.40 413.8 362.65 416.0 362.90 417.2 363.15 417.1 363.40 416.7 363.65 417.7 363.90 417.8 364.15 416.3 364.40 416.6 364.65 416.8 364.90 415.8 365.15 416.8 365.40 416.3 365.65 417.3 365.90 416.9 366.15 416.2 366.40 415.8 366.65 415.5 366.90 415.9 367.15 414.8 367.40 414.5 367.65 414.2 367.90 413.1 368.00 412.5 368.15 412.5 368.40 413.2 368.65 413.3 368.90 415.3 369.15 416.2 369.40 416.2 369.65 416.9 369.90 417.2 370.15 416.8 370.40 416.4 370.65 416.5 370.90 416.5 371.15 415.0 371.40 414.1 371.65 414.5 371.90 414.7 372.15 414.3 372.40 411.9 372.65 411.3 372.90 405.7 373.15 398.0 373.40 385.7 373.65 366.7 373.90 346.1 374.15 322.7 374.40 302.6 374.65 292.6 374.75 290.1 374.90 293.4 375.15 306.5 375.40 327.3 375.65 349.4 375.90 371.2 376.15 387.9 376.40 399.8 376.65 406.9 376.90 410.7 377.15 413.4 377.40 415.3 377.65 415.2 377.90 416.0 378.15 416.4 378.40 415.5 378.65 414.9 378.90 415.6 379.15 414.8 379.40 413.2 379.65 409.7 379.90 404.6 380.15 395.0 380.40 379.9 380.65 359.8 380.90 333.6 381.15 306.7 381.40 285.8 381.65 271.9 381.75 271.1 381.90 274.8 382.15 289.0 382.40 312.5 382.65 338.7 382.90 364.5 383.15 383.7 383.40 396.8 383.65 405.5 383.90 410.1 384.15 413.5 384.40 414.3 384.65 415.7 384.90 415.0 385.15 415.0 385.40 415.4 385.65 415.1 385.90 415.8 386.15 413.8 386.40 412.1 386.65 409.1 386.90 404.8 387.15 396.1 387.40 385.5 387.65 370.4 387.90 355.8 388.15 344.3 388.40 338.0 388.50 336.7 388.65 338.0 388.90 345.7 389.15 359.4 389.40 375.1 389.65 387.3 389.90 399.6 390.15 405.8 390.40 411.8 390.65 414.1 390.90 414.7 391.15 416.6 391.40 416.9 391.65 416.4 391.90 416.1 392.15 415.9 392.40 416.2 392.65 415.7 392.90 416.5 393.15 415.3 393.40 416.2 393.65 414.7 393.90 411.8 394.15 408.6 394.40 402.8 394.65 396.7 394.90 390.5 395.15 384.4 395.40 381.9 395.50 382.1 395.65 382.6 395.90 385.3 396.15 391.1 396.40 398.9 396.65 403.8 396.90 408.3 397.15 412.5 397.40 414.5 397.65 416.4 397.90 416.5 398.15 416.8 398.40 416.7 398.65 417.8 398.90 416.0 399.15 416.8 399.40 417.0 399.65 416.3 399.90 416.7 400.15 416.8 400.40 416.2 400.65 416.8 400.90 414.9 401.15 413.5 401.40 410.3 401.65 407.5 401.90 405.9 402.15 403.0 402.40 402.4 402.50 401.6 402.65 401.2 402.90 402.7 403.15 406.1 403.40 409.3 403.65 412.2 403.90 413.6 404.15 414.5 404.40 416.9 404.65 416.3 404.90 418.0 405.15 417.8 405.40 417.8 405.65 416.9 405.90 417.6 406.15 417.5 406.40 417.0 406.65 417.8 406.90 416.4 407.15 417.1 407.40 415.5 407.65 414.6 407.90 412.8 408.15 409.9 408.40 407.7 408.65 405.7 408.90 404.5 409.00 404.2 409.15 405.2 409.40 406.4 409.65 407.8 409.90 410.2 410.15 412.6 410.40 413.8 410.65 415.5 410.90 415.8 411.15 417.4 411.40 416.7 411.65 416.7 411.90 416.5 412.15 417.6 412.40 417.4 412.65 416.1 412.90 417.3 413.15 415.6 413.40 415.8 413.65 417.2 413.90 417.0 414.15 415.7 414.40 415.9 414.65 414.9 414.90 411.6 415.15 410.1 415.40 407.0 415.65 406.2 415.90 404.6 416.00 403.9 416.15 405.4 416.40 406.4 416.65 407.7 416.90 409.7 417.15 411.8 417.40 415.2 417.65 415.7 417.90 416.0 418.15 416.9 418.40 416.7 418.65 417.7 418.90 417.7 419.15 417.4 419.40 417.3 419.65 416.1 419.90 416.2 420.15 416.4 420.40 417.4 420.65 417.6 420.90 417.6 421.15 416.2 421.40 415.6 421.65 415.1 421.90 415.7 422.15 414.7 422.40 411.8 422.65 411.7 422.90 410.6 423.00 411.4 423.15 411.2 423.40 411.8 423.65 413.0 423.90 413.9 424.15 416.1 424.40 415.7 424.65 416.0 424.90 417.7 425.15 417.4 425.40 416.9 425.65 417.6 425.90 418.0 426.15 418.1 426.40 417.5 426.65 418.4 426.90 416.7 427.15 416.8 427.40 416.9 427.65 416.5 427.90 416.6 428.15 416.6 428.40 415.6 428.65 415.0 428.90 413.3 429.15 412.9 429.40 413.6 429.50 412.3 429.65 412.7 429.90 413.1 430.15 413.8 430.40 415.4 430.65 415.2 430.90 415.8 431.15 416.6 431.40 416.7 431.65 416.9 431.90 417.6 432.15 417.1 432.40 418.3 432.65 417.8 432.90 417.6 433.15 418.4 433.40 417.8 433.65 417.2 433.90 417.2 434.15 417.9 434.40 416.4 434.65 416.7 434.90 416.9 435.15 415.7 435.40 415.2 435.65 414.5 435.90 414.2 436.15 412.7 436.25 413.3 436.40 413.3 436.65 413.6 436.90 413.8 437.15 416.4 437.40 415.9 437.65 416.2 437.90 417.5 438.15 417.4 438.40 418.2 438.65 418.0 438.90 417.7 439.15 418.3 439.40 418.0 439.65 416.7 439.90 417.4 440.15 417.5 440.40 416.6 440.65 417.3 440.90 416.3 441.15 416.8 441.40 416.1 441.65 416.9 441.90 415.1 442.15 413.8 442.40 414.1 442.65 411.5 442.90 412.5 443.00 411.9 443.15 412.6 443.40 412.5 443.65 413.2 443.90 415.3 444.15 414.6 444.40 416.4 444.65 416.7 444.90 416.9 445.15 417.5 445.40 417.8 445.65 417.1 445.90 417.3 446.15 417.9 446.40 417.1 446.65 417.8 446.90 418.4 447.15 417.9 447.40 418.3 447.65 418.0 447.90 416.8 448.15 417.4 448.40 416.1 448.65 416.0 448.90 416.8 449.15 414.3 449.40 413.7 449.65 414.8 449.90 412.9 450.00 413.7 450.15 413.7 450.40 413.1 450.65 415.1 450.90 415.3 451.15 415.1 451.40 416.0 451.65 416.8 451.90 416.1 452.15 416.5 452.40 416.9 452.65 417.8 452.90 416.7 453.15 416.8 453.40 416.8 453.65 416.3 453.90 413.7 454.15 411.6 454.40 406.5 454.65 399.8 454.90 392.5 455.15 384.8 455.40 377.5 455.65 374.0 455.75 373.0 455.90 374.2 456.15 377.8 456.40 385.1 456.65 393.5 456.90 401.9 457.15 408.1 457.40 410.7 457.65 413.5 457.90 415.2 458.15 416.5 458.40 417.0 458.65 416.4 458.90 416.7 459.15 416.6 459.40 416.5 459.65 416.2 459.90 417.0 460.15 416.4 460.40 414.1 460.65 412.3 460.90 409.1 461.15 405.5 461.40 398.2 461.65 389.0 461.90 379.4 462.15 371.2 462.40 367.9 462.50 366.7 462.65 368.5 462.90 373.6 463.15 380.7 463.40 390.3 463.65 398.8 463.90 406.1 464.15 410.7 464.40 414.1 464.65 415.6 464.90 415.7 465.15 415.9 465.40 417.6 465.65 417.6 465.90 416.3 466.15 416.7 466.40 416.4 466.65 417.4 466.90 416.8 467.15 416.6 467.40 414.7 467.65 414.0 467.90 411.0 468.15 407.0 468.40 404.1 468.65 399.3 468.90 395.3 469.15 392.9 469.25 393.7 469.40 394.2 469.65 397.1 469.90 399.6 470.15 405.5 470.40 409.5 470.65 411.9 470.90 414.3 471.15 415.3 471.40 416.8 471.65 416.3 471.90 417.9 472.15 417.7 472.40 416.9 472.65 418.0 472.90 417.6 473.15 416.8 473.40 416.8 473.65 417.5 473.90 417.6 474.15 416.9 474.40 415.6 474.65 415.1 474.90 413.8 475.15 410.3 475.40 407.5 475.65 403.7 475.90 401.0 476.15 399.6 476.25 400.4 476.40 400.0 476.65 402.7 476.90 405.5 477.15 408.5 477.40 410.4 477.65 412.8 477.90 415.7 478.15 416.5 478.40 417.0 478.65 417.4 478.90 417.4 479.15 417.5 479.40 417.9 479.65 417.2 479.90 416.8 480.15 417.3 480.40 416.7 480.65 417.2 480.90 417.8 481.15 416.4 481.40 415.7 481.65 416.2 481.90 415.7 482.15 413.5 482.40 412.2 482.65 411.1 482.90 409.7 483.00 410.3 483.15 410.1 483.40 412.2 483.65 412.4 483.90 413.3 484.15 415.8 484.40 416.7 484.65 416.1 484.90 416.2 485.15 418.0 485.40 417.1 485.65 418.1 485.90 417.0 486.15 417.2 486.40 417.9 486.65 418.0 486.90 417.0 487.15 417.4 487.40 416.9 487.65 417.6 487.90 417.5 488.15 416.1 488.40 416.2 488.65 415.9 488.90 414.9 489.15 413.4 489.40 412.3 489.65 410.9 489.90 411.3 490.00 410.4 490.15 410.9 490.40 411.2 490.65 412.3 490.90 413.5 491.15 414.5 491.40 415.2 491.65 416.4 491.90 417.0 492.15 416.9 492.40 416.8 492.65 417.6 492.90 417.6 493.15 418.2 493.40 417.1 493.65 416.6 493.90 417.8 494.15 418.2 494.40 418.1 494.65 417.7 494.90 417.9 495.15 416.6 495.40 418.4 495.65 417.9 495.90 418.2 496.15 417.2 496.40 416.9 496.65 418.0 496.90 418.1 497.15 417.1 497.40 416.5 497.65 415.4 497.90 416.5 498.15 415.7 498.40 415.0 498.65 414.7 498.75 414.6 498.90 413.8 499.15 414.4 499.40 415.6 499.65 416.3 499.90 416.7 500.15 417.4 500.40 416.6 500.65 417.5 500.90 417.1 501.15 416.5 501.40 417.0 501.65 417.3 501.90 416.1 502.15 416.1 502.40 417.3 502.65 417.0 502.90 416.2 503.15 417.0 503.40 417.1 503.65 416.8 503.90 414.1 504.15 413.3 504.40 412.9 504.65 411.6 504.90 411.1 505.00 411.5 505.15 410.2 505.40 411.5 505.65 413.4 505.90 415.0 506.15 415.3 506.40 416.3 506.65 416.1 506.90 416.7 507.15 417.1 507.40 418.1 507.65 418.1 507.90 417.8 508.15 418.0 508.40 416.8 508.65 417.5 508.90 417.3 509.15 416.6 509.40 417.9"/>
<rect class="fr" x="325.75" y="237.50" width="184.25" height="183.80"/>
<line class="ti" x1="319.80" y1="420.75" x2="325.75" y2="420.75"/>
<text class="tk" x="316.20" y="424.85" text-anchor="end">0</text>
<line class="ti" x1="319.80" y1="369.75" x2="325.75" y2="369.75"/>
<text class="tk" x="316.20" y="373.85" text-anchor="end">1000</text>
<line class="ti" x1="319.80" y1="318.75" x2="325.75" y2="318.75"/>
<text class="tk" x="316.20" y="322.85" text-anchor="end">2000</text>
<line class="ti" x1="319.80" y1="267.75" x2="325.75" y2="267.75"/>
<text class="tk" x="316.20" y="271.85" text-anchor="end">3000</text>
<line class="ti" x1="332.50" y1="421.30" x2="332.50" y2="424.90"/>
<text class="tk" x="332.50" y="440.75" text-anchor="middle">1910</text>
<line class="ti" x1="366.75" y1="421.30" x2="366.75" y2="424.90"/>
<text class="tk" x="366.75" y="440.75" text-anchor="middle">1915</text>
<line class="ti" x1="401.00" y1="421.30" x2="401.00" y2="424.90"/>
<text class="tk" x="401.00" y="440.75" text-anchor="middle">1920</text>
<line class="ti" x1="435.25" y1="421.30" x2="435.25" y2="424.90"/>
<text class="tk" x="435.25" y="440.75" text-anchor="middle">1925</text>
<line class="ti" x1="469.50" y1="421.30" x2="469.50" y2="424.90"/>
<text class="tk" x="469.50" y="440.75" text-anchor="middle">1930</text>
<line class="ti" x1="503.75" y1="421.30" x2="503.75" y2="424.90"/>
<text class="tk" x="503.75" y="440.75" text-anchor="middle">1935</text>
<text x="458.10" y="258.25" font-size="12.50" text-anchor="middle">Diabetic</text>
<text x="459.90" y="272.75" font-size="12.50" text-anchor="middle">Peptide # 17</text>
<text class="mz" x="415.05" y="463.00" text-anchor="middle">m/z</text>
<text class="lt" x="269.80" y="252.00">D</text>
<text class="ax" style="letter-spacing:0.35px" transform="translate(286.00 322.90) rotate(-90)" text-anchor="middle">Intensity</text>
</g>
<g id="panelE">
<path class="cv" d="M54.30 652.5 54.55 652.5 54.80 652.5 55.05 652.4 55.30 652.5 55.55 652.2 55.80 652.1 56.05 652.2 56.30 652.1 56.55 652.0 56.80 652.4 57.05 652.4 57.30 652.2 57.55 652.3 57.80 652.4 58.05 652.6 58.30 652.5 58.55 652.3 58.80 652.3 59.05 652.3 59.30 652.6 59.55 652.3 59.80 652.5 60.05 652.4 60.30 652.6 60.55 652.3 60.80 652.4 61.05 652.4 61.30 652.6 61.55 652.4 61.80 652.4 62.05 652.4 62.30 652.5 62.55 652.3 62.80 652.5 63.05 652.4 63.30 652.4 63.55 652.2 63.80 652.3 64.05 652.2 64.30 652.3 64.55 652.1 64.80 652.2 65.05 652.2 65.30 652.5 65.55 652.4 65.80 652.5 66.05 652.6 66.30 652.6 66.55 652.3 66.80 652.6 67.05 652.5 67.30 652.5 67.55 652.4 67.80 652.6 68.05 652.5 68.30 652.5 68.55 652.3 68.80 652.6 69.05 652.4 69.30 652.4 69.55 652.2 69.80 652.4 70.05 652.4 70.30 652.3 70.55 652.5 70.80 652.6 71.05 652.4 71.30 652.3 71.55 652.4 71.80 652.5 72.05 652.4 72.30 652.3 72.55 652.5 72.80 652.4 73.05 652.5 73.30 652.6 73.55 652.5 73.80 652.6 74.05 652.5 74.30 652.6 74.55 652.5 74.80 652.6 75.05 652.3 75.30 652.4 75.55 652.6 75.80 652.3 76.05 652.5 76.30 652.4 76.55 652.4 76.80 652.5 77.05 652.5 77.30 652.4 77.55 652.6 77.80 652.3 78.05 652.6 78.30 652.3 78.55 652.5 78.80 652.5 79.05 652.5 79.30 652.6 79.55 652.5 79.80 652.4 80.05 652.4 80.30 652.2 80.50 652.2 80.55 652.5 80.80 652.4 81.05 652.5 81.30 652.3 81.55 652.4 81.80 652.2 82.05 652.4 82.30 652.5 82.55 652.6 82.80 652.5 83.05 652.2 83.30 652.5 83.55 652.4 83.80 652.4 84.05 652.4 84.30 652.2 84.55 652.5 84.80 652.3 85.05 652.3 85.30 652.1 85.55 652.3 85.80 652.1 86.05 652.3 86.30 652.2 86.55 652.1 86.80 652.0 87.00 652.0 87.05 652.3 87.30 652.2 87.55 652.1 87.80 651.9 88.05 652.0 88.30 652.1 88.55 651.8 88.80 651.9 89.05 651.9 89.30 651.8 89.55 651.5 89.80 650.5 90.05 649.1 90.30 644.9 90.55 636.7 90.80 622.0 91.05 599.5 91.30 570.8 91.55 541.2 91.80 519.7 92.00 513.8 92.05 514.1 92.30 521.0 92.55 536.9 92.80 557.7 93.05 579.9 93.30 600.9 93.55 618.1 93.80 630.7 94.05 639.5 94.30 645.1 94.55 648.2 94.80 649.8 95.05 650.6 95.30 650.8 95.55 651.2 95.80 651.0 96.05 651.0 96.30 651.0 96.55 650.2 96.80 648.9 97.05 645.7 97.30 638.8 97.55 626.2 97.80 606.8 98.05 582.3 98.30 557.2 98.55 538.8 98.75 533.7 98.80 533.9 99.05 539.9 99.30 553.5 99.55 571.1 99.80 590.5 100.05 608.4 100.30 622.9 100.55 633.9 100.80 641.2 101.05 645.9 101.30 648.6 101.55 650.0 101.80 650.9 102.05 651.1 102.30 651.3 102.55 651.5 102.80 651.3 103.05 651.6 103.30 651.0 103.55 650.6 103.80 648.7 104.05 645.4 104.30 639.0 104.55 629.0 104.80 616.2 105.05 603.5 105.30 594.0 105.50 591.4 105.55 591.6 105.80 594.7 106.05 601.7 106.30 610.8 106.55 620.5 106.80 629.8 107.05 637.4 107.30 643.1 107.55 646.6 107.80 649.1 108.05 650.3 108.30 651.1 108.55 651.7 108.80 651.6 109.05 651.7 109.30 651.8 109.55 651.8 109.80 651.9 110.05 651.8 110.30 651.8 110.55 651.7 110.80 651.3 111.05 650.2 111.30 648.0 111.55 645.0 111.80 641.3 112.05 637.1 112.30 634.2 112.50 633.5 112.55 633.4 112.80 634.3 113.05 636.7 113.30 639.4 113.55 642.5 113.80 645.4 114.05 647.8 114.30 649.3 114.55 650.7 114.80 651.2 115.05 651.9 115.30 652.0 115.55 652.0 115.80 652.2 116.05 650.0 116.30 650.2 116.55 650.1 116.80 650.1 117.05 650.0 117.30 650.0 117.55 649.8 117.80 649.8 118.05 649.5 118.30 648.9 118.55 648.1 118.80 647.7 119.05 647.1 119.25 647.1 119.30 647.0 119.55 647.2 119.80 647.4 120.05 648.2 120.30 648.5 120.55 649.2 120.80 649.7 121.05 649.8 121.30 650.4 121.55 650.5 121.80 650.6 122.05 650.7 122.30 650.6 122.55 650.7 122.80 650.8 123.05 650.9 123.30 650.6 123.55 650.9 123.80 650.8 124.05 650.7 124.30 650.6 124.55 650.6 124.80 650.5 125.05 650.4 125.30 650.1 125.55 649.9 125.80 650.0 126.00 650.1 126.05 649.8 126.30 650.0 126.55 650.1 126.80 650.1 127.05 650.5 127.30 650.5 127.55 650.8 127.80 650.9 128.05 651.0 128.30 651.1 128.55 651.0 128.80 651.0 129.05 650.9 129.30 651.2 129.55 651.0 129.80 651.3 130.05 651.1 130.30 651.3 130.55 651.0 130.80 651.0 131.05 651.2 131.30 651.0 131.55 651.2 131.80 651.1 132.05 651.2 132.30 651.0 132.50 651.2 132.55 650.9 132.80 651.0 133.05 651.1 133.30 651.0 133.55 651.3 133.80 651.3 134.05 651.3 134.30 651.5 134.55 651.2 134.80 651.5 135.05 651.5 135.30 651.3 135.55 651.3 135.80 651.4 136.05 651.4 136.30 651.6 136.55 651.6 136.80 651.4 137.05 651.5 137.30 651.6 137.55 651.3 137.80 651.6 138.05 651.5 138.30 651.3 138.55 651.2 138.80 651.4 139.05 651.1 139.30 651.2 139.55 651.2 139.80 651.1 140.05 651.2 140.30 651.4 140.55 651.4 140.80 651.5 141.05 651.6 141.30 651.5 141.55 651.6 141.80 651.7 142.05 651.8 142.30 651.5 142.55 651.6 142.80 651.6 143.05 651.6 143.30 651.4 143.55 651.4 143.80 651.2 144.05 651.3 144.30 651.4 144.55 651.3 144.80 651.5 145.05 651.6 145.30 651.6 145.55 651.6 145.80 651.6 146.05 651.6 146.30 651.7 146.55 651.8 146.80 651.9 147.05 651.9 147.30 651.8 147.55 651.8 147.80 651.7 148.05 652.0 148.30 651.9 148.55 651.7 148.80 651.8 149.05 651.7 149.30 652.0 149.55 651.7 149.80 651.8 150.05 651.8 150.30 651.9 150.55 651.8 150.80 651.6 151.05 651.5 151.30 651.6 151.55 651.6 151.80 651.8 152.05 651.6 152.30 651.8 152.55 651.7 152.80 651.8 153.05 651.9 153.30 651.8 153.55 652.1 153.80 651.8 154.05 652.1 154.30 651.8 154.55 651.9 154.80 652.0 155.05 651.8 155.30 652.0 155.55 652.0 155.80 652.1 156.05 651.9 156.30 651.9 156.55 652.1 156.80 652.1 157.05 652.0 157.30 651.8 157.55 651.8 157.80 651.9 158.05 652.0 158.30 651.7 158.55 652.0 158.80 651.8 159.05 651.9 159.30 651.8 159.55 652.1 159.80 651.9 160.05 652.0 160.30 652.2 160.55 652.0 160.80 652.1 161.05 652.0 161.30 651.9 161.55 652.0 161.80 652.1 162.05 652.0 162.30 652.2 162.55 652.1 162.80 652.2 163.05 652.0 163.30 652.2 163.55 652.0 163.80 652.1 164.05 652.0 164.30 652.1 164.55 652.1 164.80 651.9 165.05 651.9 165.30 651.9 165.55 652.0 165.80 651.9 166.05 652.2 166.30 652.1 166.55 652.1 166.80 652.2 167.05 652.2 167.30 652.0 167.55 651.7 167.80 651.3 168.05 651.0 168.30 650.7 168.55 650.6 168.75 650.3 168.80 650.4 169.05 650.6 169.30 650.6 169.55 651.0 169.80 651.3 170.05 651.5 170.30 651.6 170.55 652.0 170.80 652.0 171.05 652.2 171.30 652.1 171.55 652.1 171.80 652.3 172.05 652.1 172.30 652.2 172.55 652.3 172.80 652.3 173.05 652.2 173.30 652.1 173.55 652.2 173.80 652.3 174.05 652.0 174.30 652.0 174.55 651.9 174.80 651.7 175.05 651.4 175.30 651.2 175.50 651.3 175.55 651.4 175.80 651.1 176.05 651.4 176.30 651.7 176.55 651.6 176.80 652.0 177.05 652.0 177.30 652.0 177.55 652.1 177.80 652.0 178.05 652.3 178.30 652.1 178.55 651.9 178.80 652.0 179.05 651.9 179.30 652.0 179.55 651.9 179.80 651.8 180.05 652.1 180.30 652.0 180.55 652.2 180.80 652.1 181.05 652.1 181.30 652.1 181.55 652.1 181.80 652.2 182.05 652.1 182.30 652.4 182.50 652.2 182.55 652.4 182.80 652.2 183.05 652.2 183.30 652.3 183.55 652.2 183.80 652.3 184.05 652.4 184.30 652.4 184.55 652.3 184.80 652.3 185.05 652.4 185.30 652.3 185.55 652.0 185.80 652.2 186.05 652.0 186.30 652.1 186.55 652.2 186.80 652.0 187.05 652.2 187.30 652.2 187.55 652.1 187.80 652.1 188.05 652.4 188.30 652.1 188.55 652.5 188.80 652.4 189.05 652.4 189.30 652.2 189.55 652.2 189.80 652.2 190.05 652.4 190.30 652.2 190.55 652.4 190.80 652.1 191.05 652.4 191.30 652.3 191.55 652.0 191.80 652.0 192.05 652.0 192.30 652.1 192.55 651.9 192.80 652.1 193.05 652.3 193.30 652.4 193.55 652.1 193.80 652.5 194.05 652.4 194.30 652.4 194.55 652.2 194.80 652.2 195.05 652.2 195.30 652.3 195.55 652.5 195.80 652.3 196.05 652.4 196.30 652.1 196.55 652.1 196.80 652.4 197.05 652.1 197.30 652.2 197.55 652.2 197.80 652.0 198.05 652.1 198.30 652.2 198.55 652.2 198.80 652.4 199.05 652.3 199.30 652.3 199.55 652.2 199.80 652.5 200.05 652.2 200.30 652.5 200.55 652.5 200.80 652.4 201.05 652.5 201.30 652.5 201.55 652.3 201.80 652.4 202.05 652.5 202.30 652.3 202.50 652.5 202.55 652.3 202.80 652.2 203.05 652.4 203.30 652.4 203.55 652.4 203.80 652.4 204.05 652.4 204.30 652.5 204.55 652.4 204.80 652.3 205.05 652.3 205.30 652.5 205.55 652.5 205.80 652.2 206.05 652.4 206.30 652.2 206.55 652.3 206.80 652.3 207.05 652.4 207.30 652.3 207.55 652.4 207.80 652.4 208.05 652.2 208.25 652.5 208.30 652.5 208.55 652.2 208.80 652.2 209.05 652.2 209.30 652.2 209.55 652.5 209.80 652.3 210.05 652.5 210.30 652.2 210.55 652.3 210.80 652.2 211.05 652.2 211.30 652.3 211.55 652.2 211.80 652.1 212.05 652.3 212.30 652.3 212.55 652.4 212.80 652.5 213.05 652.5 213.30 652.3 213.55 652.2 213.80 652.5 214.05 652.5 214.30 652.5 214.55 652.3 214.80 652.5 215.05 652.5 215.30 652.5 215.55 652.6 215.80 652.5 216.05 652.5 216.30 652.3 216.55 652.2 216.80 652.5 217.05 652.4 217.30 652.3 217.55 652.5 217.80 652.4 218.05 652.2 218.30 652.2 218.55 652.3 218.80 652.3 219.05 652.5 219.30 652.4 219.55 652.5 219.80 652.5 220.05 652.6 220.30 652.3 220.55 652.6 220.80 652.5 221.05 652.5 221.30 652.5 221.55 652.3 221.80 652.3 222.05 652.3 222.30 652.5 222.55 652.4 222.80 652.5 223.05 652.6 223.30 652.5 223.55 652.4 223.80 652.5 224.05 652.3 224.30 652.4 224.55 652.5 224.80 652.2 225.05 652.3 225.30 652.4 225.55 652.2 225.80 652.3 226.05 652.2 226.30 652.3 226.55 652.2 226.80 652.2 227.05 652.4 227.30 652.4 227.55 652.3 227.80 652.3 228.05 652.4 228.30 652.3 228.55 652.4 228.80 652.5 229.05 652.5 229.30 652.5 229.55 652.5 229.80 652.2 230.05 652.4 230.30 652.5 230.55 652.4 230.80 652.3 231.05 652.1 231.30 652.1 231.55 652.1 231.80 652.3 232.05 652.3 232.30 652.2 232.55 652.4 232.80 652.3 233.05 652.6 233.30 652.4 233.55 652.4 233.80 652.3 234.05 652.3 234.30 652.3"/>
<rect class="fr" x="53.40" y="474.75" width="181.60" height="180.45"/>
<line class="ti" x1="47.60" y1="654.00" x2="53.40" y2="654.00"/>
<text class="tk" x="45.70" y="658.10" text-anchor="end">0</text>
<line class="ti" x1="47.60" y1="602.70" x2="53.40" y2="602.70"/>
<text class="tk" x="45.70" y="606.80" text-anchor="end">1000</text>
<line class="ti" x1="47.60" y1="551.40" x2="53.40" y2="551.40"/>
<text class="tk" x="45.70" y="555.50" text-anchor="end">2000</text>
<line class="ti" x1="47.60" y1="500.10" x2="53.40" y2="500.10"/>
<text class="tk" x="45.70" y="504.20" text-anchor="end">3000</text>
<line class="ti" x1="59.50" y1="655.20" x2="59.50" y2="658.80"/>
<text class="tk" x="59.50" y="675.50" text-anchor="middle">1600</text>
<line class="ti" x1="93.25" y1="655.20" x2="93.25" y2="658.80"/>
<text class="tk" x="93.25" y="675.50" text-anchor="middle">1605</text>
<line class="ti" x1="127.00" y1="655.20" x2="127.00" y2="658.80"/>
<text class="tk" x="127.00" y="675.50" text-anchor="middle">1610</text>
<line class="ti" x1="160.75" y1="655.20" x2="160.75" y2="658.80"/>
<text class="tk" x="160.75" y="675.50" text-anchor="middle">1615</text>
<line class="ti" x1="194.50" y1="655.20" x2="194.50" y2="658.80"/>
<text class="tk" x="194.50" y="675.50" text-anchor="middle">1620</text>
<line class="ti" x1="228.25" y1="655.20" x2="228.25" y2="658.80"/>
<text class="tk" x="228.25" y="675.50" text-anchor="middle">1625</text>
<text x="178.75" y="493.00" font-size="12.55" text-anchor="middle">Native GAPDH</text>
<text x="175.40" y="507.50" font-size="12.55" text-anchor="middle">Peptide # 26</text>
<text class="mz" x="143.05" y="697.75" text-anchor="middle">m/z</text>
<text class="lt" x="0.50" y="488.00">E</text>
<text class="ax" style="letter-spacing:0.50px" transform="translate(17.00 557.00) rotate(-90)" text-anchor="middle">Intensity</text>
</g>
<g id="panelF">
<path class="cv" d="M326.65 653.4 326.90 653.3 327.15 653.3 327.40 653.3 327.65 653.4 327.90 653.3 328.15 653.2 328.40 653.4 328.65 653.3 328.90 653.1 329.15 653.2 329.40 653.2 329.65 653.3 329.90 653.0 330.15 653.1 330.40 653.1 330.65 653.2 330.90 653.2 331.15 653.2 331.40 653.3 331.65 653.4 331.90 653.2 332.15 653.2 332.40 653.5 332.65 653.3 332.90 653.3 333.15 653.4 333.40 653.3 333.65 653.2 333.90 653.3 334.15 653.4 334.40 653.4 334.65 653.4 334.90 653.4 335.15 653.5 335.40 653.4 335.65 653.2 335.90 653.3 336.15 653.3 336.40 653.2 336.65 653.2 336.90 653.4 337.15 653.2 337.40 653.4 337.65 653.2 337.90 653.2 338.15 653.2 338.40 653.3 338.65 653.4 338.90 653.4 339.15 653.3 339.40 653.4 339.65 653.3 339.90 653.4 340.15 653.4 340.40 653.4 340.65 653.3 340.90 653.3 341.15 653.4 341.40 653.3 341.65 653.3 341.90 653.3 342.15 653.4 342.40 653.2 342.65 653.2 342.90 653.4 343.15 653.3 343.40 653.3 343.65 653.2 343.90 653.3 344.15 653.1 344.40 653.1 344.65 653.2 344.90 653.1 345.15 653.3 345.40 653.3 345.65 653.2 345.90 653.3 346.15 653.3 346.40 653.4 346.65 653.2 346.90 653.3 347.15 653.4 347.40 653.4 347.65 653.3 347.90 653.3 348.15 653.3 348.40 653.4 348.65 653.3 348.90 653.3 349.15 653.3 349.40 653.3 349.65 653.3 349.90 653.3 350.15 653.3 350.40 653.3 350.65 653.5 350.90 653.4 351.15 653.2 351.40 653.2 351.65 653.3 351.90 653.2 352.15 653.4 352.40 653.3 352.65 653.3 352.90 653.2 353.15 653.4 353.40 653.3 353.65 653.1 353.90 653.2 354.15 653.1 354.40 653.3 354.65 653.1 354.90 653.0 355.15 653.3 355.40 653.1 355.65 653.0 355.90 653.2 356.15 653.1 356.40 653.0 356.65 653.1 356.90 653.2 357.15 653.3 357.40 653.1 357.65 653.2 357.90 653.1 358.15 653.1 358.40 653.0 358.65 653.0 358.90 652.9 359.15 652.8 359.40 652.9 359.65 652.9 359.90 652.7 360.15 652.7 360.40 652.5 360.65 652.4 360.90 652.5 361.15 652.1 361.40 652.0 361.65 651.7 361.90 651.0 362.15 649.3 362.40 645.4 362.65 636.4 362.90 619.3 363.15 591.9 363.40 556.4 363.65 521.5 363.90 500.5 364.00 498.5 364.15 501.4 364.40 518.1 364.65 544.4 364.90 573.8 365.15 600.4 365.40 620.8 365.65 634.6 365.90 642.9 366.15 647.4 366.40 649.6 366.65 650.5 366.90 651.2 367.15 651.3 367.40 651.5 367.65 651.5 367.90 651.5 368.15 651.3 368.40 651.1 368.65 650.5 368.90 649.3 369.15 645.9 369.40 638.4 369.65 623.5 369.90 599.9 370.15 569.5 370.40 539.7 370.65 521.4 370.75 519.7 370.90 522.2 371.15 536.7 371.40 559.5 371.65 584.8 371.90 607.7 372.15 625.3 372.40 637.2 372.65 644.3 372.90 648.2 373.15 650.0 373.40 651.0 373.65 651.5 373.90 651.5 374.15 651.9 374.40 651.9 374.65 651.8 374.90 651.9 375.15 651.7 375.40 651.5 375.65 650.8 375.90 648.8 376.15 644.4 376.40 636.1 376.65 622.8 376.90 605.4 377.15 588.1 377.40 577.7 377.50 576.8 377.65 578.2 377.90 586.4 378.15 599.7 378.40 614.1 378.65 627.0 378.90 637.1 379.15 644.1 379.40 648.2 379.65 650.5 379.90 651.5 380.15 651.9 380.40 652.4 380.65 652.5 380.90 652.7 381.15 652.6 381.40 652.8 381.65 652.6 381.90 652.7 382.15 652.7 382.40 652.6 382.65 652.4 382.90 651.5 383.15 650.0 383.40 647.1 383.65 642.4 383.90 636.2 384.15 630.0 384.40 626.2 384.50 625.8 384.65 626.5 384.90 629.4 385.15 634.1 385.40 639.3 385.65 644.0 385.90 647.5 386.15 649.9 386.40 651.3 386.65 652.3 386.90 652.7 387.15 652.8 387.40 653.1 387.65 652.9 387.90 653.0 388.15 653.1 388.40 653.1 388.65 653.1 388.90 653.0 389.15 653.0 389.40 653.1 389.65 652.7 389.90 652.3 390.15 651.6 390.40 650.4 390.65 648.7 390.90 647.1 391.15 645.9 391.25 646.0 391.40 646.0 391.65 647.0 391.90 648.3 392.15 649.6 392.40 650.9 392.65 651.9 392.90 652.6 393.15 652.9 393.40 653.1 393.65 653.3 393.90 653.3 394.15 653.2 394.40 653.3 394.65 653.3 394.90 653.3 395.15 653.3 395.40 653.3 395.65 653.2 395.90 653.4 396.15 653.2 396.40 653.1 396.65 652.8 396.90 652.6 397.15 652.5 397.40 652.2 397.50 652.1 397.65 652.1 397.90 652.3 398.15 652.7 398.40 652.8 398.65 653.0 398.90 653.2 399.15 653.1 399.40 653.3 399.65 653.2 399.90 653.5 400.15 653.2 400.40 653.4 400.65 653.3 400.90 653.4 401.15 653.4 401.40 653.3 401.65 653.2 401.90 653.5 402.15 653.4 402.40 653.4 402.65 653.3 402.90 653.4 403.15 653.4 403.40 653.2 403.65 653.4 403.90 653.1 404.15 653.2 404.40 652.8 404.65 652.9 404.90 652.9 405.00 652.8 405.15 652.8 405.40 652.8 405.65 653.0 405.90 653.1 406.15 653.3 406.40 653.3 406.65 653.4 406.90 653.3 407.15 653.2 407.40 653.3 407.65 653.4 407.90 653.3 408.15 653.3 408.40 653.2 408.65 653.5 408.90 653.3 409.15 653.4 409.40 653.2 409.65 653.3 409.90 653.3 410.15 653.2 410.40 653.1 410.65 653.2 410.90 653.1 411.15 653.1 411.25 653.1 411.40 652.9 411.65 653.0 411.90 653.2 412.15 653.2 412.40 653.2 412.65 653.4 412.90 653.2 413.15 653.4 413.40 653.5 413.65 653.3 413.90 653.4 414.15 653.3 414.40 653.4 414.65 653.4 414.90 653.3 415.15 653.4 415.40 653.4 415.65 653.2 415.90 653.2 416.15 653.1 416.40 653.1 416.65 653.1 416.90 653.0 417.15 653.2 417.40 653.2 417.65 653.2 417.90 653.2 418.15 653.3 418.40 653.3 418.65 653.2 418.90 653.3 419.15 653.4 419.40 653.4 419.65 653.5 419.90 653.5 420.15 653.4 420.40 653.3 420.65 653.3 420.90 653.4 421.15 653.5 421.40 653.3 421.65 653.2 421.90 653.5 422.15 653.3 422.40 653.2 422.65 653.4 422.90 653.3 423.15 653.2 423.40 653.2 423.65 653.4 423.90 653.2 424.15 653.2 424.40 653.2 424.65 653.2 424.90 653.2 425.15 653.3 425.40 653.2 425.65 653.4 425.90 653.5 426.15 653.4 426.40 653.3 426.65 653.3 426.90 653.2 427.15 653.5 427.40 653.5 427.65 653.3 427.90 653.2 428.15 653.3 428.40 653.2 428.65 653.2 428.90 653.0 429.15 653.0 429.40 652.9 429.65 653.1 429.90 653.2 430.15 653.1 430.40 653.2 430.65 653.3 430.90 653.2 431.15 653.3 431.40 653.4 431.65 653.4 431.90 653.3 432.15 653.4 432.40 653.4 432.65 653.3 432.90 653.4 433.15 653.3 433.40 653.3 433.65 653.5 433.90 653.2 434.15 653.4 434.40 653.4 434.65 653.3 434.90 653.4 435.15 653.4 435.40 653.4 435.65 653.4 435.90 653.3 436.15 653.2 436.40 653.2 436.65 653.2 436.90 652.9 437.15 653.0 437.40 653.0 437.65 653.2 437.90 653.0 438.15 653.3 438.40 653.2 438.65 653.2 438.90 653.3 439.15 653.3 439.40 653.3 439.65 653.3 439.90 653.2 440.15 653.4 440.40 653.4 440.65 653.2 440.90 653.3 441.15 653.2 441.40 653.2 441.65 653.3 441.90 653.0 442.15 653.1 442.40 653.0 442.65 652.8 442.90 652.8 443.15 652.7 443.40 652.6 443.65 652.6 443.90 652.0 444.15 650.4 444.40 647.5 444.65 642.9 444.90 636.9 445.15 631.0 445.40 627.6 445.50 627.2 445.65 627.7 445.90 630.4 446.15 635.0 446.40 639.9 446.65 644.4 446.90 647.8 447.15 650.1 447.40 651.5 447.65 652.4 447.90 652.6 448.15 653.0 448.40 652.9 448.65 653.1 448.90 653.1 449.15 653.1 449.40 653.1 449.65 653.1 449.90 652.8 450.15 652.8 450.40 652.7 450.65 652.0 450.90 650.6 451.15 648.0 451.40 643.8 451.65 638.2 451.90 632.7 452.15 629.4 452.25 629.2 452.40 629.6 452.65 632.3 452.90 636.3 453.15 640.9 453.40 645.0 453.65 648.4 453.90 650.4 454.15 651.8 454.40 652.4 454.65 652.7 454.90 652.9 455.15 652.9 455.40 653.0 455.65 653.1 455.90 653.1 456.15 652.9 456.40 653.1 456.65 652.9 456.90 653.0 457.15 653.1 457.40 652.8 457.65 652.3 457.90 651.6 458.15 650.0 458.40 648.3 458.65 646.4 458.90 645.5 459.00 645.2 459.15 645.5 459.40 646.3 459.65 647.6 459.90 649.1 460.15 650.6 460.40 651.7 460.65 652.4 460.90 652.8 461.15 653.1 461.40 653.1 461.65 653.1 461.90 653.0 462.15 653.0 462.40 653.1 462.65 652.9 462.90 653.1 463.15 653.0 463.40 653.0 463.65 653.1 463.90 653.1 464.15 653.1 464.40 653.0 464.65 653.0 464.90 652.6 465.15 652.2 465.40 651.8 465.65 651.6 465.75 651.6 465.90 651.5 466.15 651.8 466.40 652.0 466.65 652.3 466.90 652.7 467.15 653.1 467.40 653.1 467.65 653.1 467.90 653.3 468.15 653.4 468.40 653.2 468.65 653.3 468.90 653.3 469.15 653.2 469.40 653.0 469.65 653.1 469.90 653.2 470.15 653.2 470.40 653.1 470.65 653.1 470.90 653.0 471.15 653.1 471.40 653.1 471.65 653.2 471.90 653.4 472.15 653.3 472.40 653.3 472.65 653.3 472.90 653.3 473.15 653.4 473.40 653.4 473.65 653.5 473.90 653.3 474.15 653.4 474.40 653.2 474.65 653.3 474.90 653.4 475.15 653.2 475.40 653.4 475.65 653.4 475.90 653.2 476.15 653.3 476.40 653.1 476.65 653.1 476.90 653.3 477.15 653.0 477.40 653.0 477.65 653.2 477.90 653.2 478.15 653.2 478.40 653.4 478.65 653.2 478.90 653.3 479.15 653.3 479.40 653.5 479.65 653.4 479.90 653.4 480.15 653.2 480.40 653.5 480.65 653.5 480.90 653.4 481.15 653.3 481.40 653.4 481.65 653.3 481.90 653.3 482.15 653.3 482.40 653.4 482.65 653.3 482.90 653.5 483.15 653.4 483.40 653.2 483.65 653.4 483.90 653.4 484.15 653.4 484.40 653.3 484.65 653.2 484.90 653.4 485.15 653.3 485.40 653.2 485.65 653.4 485.90 653.3 486.15 653.4 486.40 653.3 486.65 653.2 486.90 653.2 487.15 653.4 487.40 653.4 487.65 653.3 487.90 653.2 488.15 653.4 488.40 653.4 488.65 653.4 488.90 653.2 489.15 653.4 489.40 653.4 489.65 653.3 489.90 653.2 490.15 653.3 490.40 653.0 490.65 653.2 490.90 653.1 491.15 653.1 491.40 653.0 491.65 653.0 491.90 653.2 492.15 653.3 492.40 653.3 492.65 653.3 492.90 653.4 493.15 653.5 493.40 653.4 493.65 653.3 493.90 653.4 494.15 653.4 494.40 653.3 494.65 653.2 494.90 653.2 495.15 653.4 495.40 653.4 495.65 653.3 495.90 653.2 496.15 653.4 496.40 653.3 496.65 653.3 496.90 653.1 497.15 653.1 497.40 653.3 497.65 653.1 497.90 653.3 498.15 653.3 498.40 653.2 498.65 653.3 498.90 653.2 499.15 653.3 499.40 653.3 499.65 653.2 499.90 653.3 500.15 653.4 500.40 653.4 500.65 653.4 500.90 653.4 501.15 653.4 501.40 653.3 501.65 653.3 501.90 653.4 502.15 653.2 502.40 653.2 502.65 653.1 502.90 653.1 503.15 653.2 503.40 653.0 503.65 653.1 503.90 653.1 504.15 653.1 504.40 653.3 504.65 653.3 504.90 653.4 505.15 653.3 505.40 653.3 505.65 653.4 505.90 653.2 506.15 653.2 506.40 653.4 506.65 653.4 506.90 653.5 507.15 653.3"/>
<rect class="fr" x="325.75" y="474.25" width="182.05" height="181.45"/>
<line class="ti" x1="319.80" y1="654.75" x2="325.75" y2="654.75"/>
<text class="tk" x="316.20" y="658.85" text-anchor="end">0</text>
<line class="ti" x1="319.80" y1="604.65" x2="325.75" y2="604.65"/>
<text class="tk" x="316.20" y="608.75" text-anchor="end">1000</text>
<line class="ti" x1="319.80" y1="554.55" x2="325.75" y2="554.55"/>
<text class="tk" x="316.20" y="558.65" text-anchor="end">2000</text>
<line class="ti" x1="319.80" y1="504.45" x2="325.75" y2="504.45"/>
<text class="tk" x="316.20" y="508.55" text-anchor="end">3000</text>
<line class="ti" x1="332.50" y1="655.70" x2="332.50" y2="659.30"/>
<text class="tk" x="332.50" y="676.30" text-anchor="middle">1600</text>
<line class="ti" x1="366.05" y1="655.70" x2="366.05" y2="659.30"/>
<text class="tk" x="366.05" y="676.30" text-anchor="middle">1605</text>
<line class="ti" x1="399.60" y1="655.70" x2="399.60" y2="659.30"/>
<text class="tk" x="399.60" y="676.30" text-anchor="middle">1610</text>
<line class="ti" x1="433.15" y1="655.70" x2="433.15" y2="659.30"/>
<text class="tk" x="433.15" y="676.30" text-anchor="middle">1615</text>
<line class="ti" x1="466.70" y1="655.70" x2="466.70" y2="659.30"/>
<text class="tk" x="466.70" y="676.30" text-anchor="middle">1620</text>
<line class="ti" x1="500.25" y1="655.70" x2="500.25" y2="659.30"/>
<text class="tk" x="500.25" y="676.30" text-anchor="middle">1625</text>
<text x="453.60" y="491.00" font-size="12.55" text-anchor="middle">GAPDH + Fum</text>
<text x="450.90" y="505.50" font-size="12.55" text-anchor="middle">Peptide # 26</text>
<text class="mz" x="417.30" y="698.25" text-anchor="middle">m/z</text>
<text class="lt" x="270.30" y="488.00">F</text>
<text class="ax" style="letter-spacing:0.35px" transform="translate(286.00 558.15) rotate(-90)" text-anchor="middle">Intensity</text>
</g>
<g id="panelG">
<path class="cv" d="M54.30 894.1 54.55 894.0 54.80 894.0 55.05 893.9 55.30 894.0 55.55 894.0 55.80 894.0 56.05 893.9 56.30 893.8 56.55 893.8 56.80 893.9 57.05 893.7 57.30 893.9 57.55 893.8 57.80 893.7 58.05 893.7 58.30 893.9 58.55 894.0 58.80 893.9 59.05 893.9 59.30 894.0 59.55 893.9 59.80 894.0 60.05 894.0 60.30 894.0 60.55 894.0 60.80 893.9 61.05 894.0 61.30 893.9 61.55 893.8 61.80 893.9 62.05 894.0 62.30 893.9 62.55 893.9 62.80 894.0 63.05 893.9 63.30 893.8 63.55 893.7 63.80 893.7 64.05 893.8 64.30 893.8 64.55 893.7 64.80 893.9 65.05 893.9 65.30 894.0 65.55 893.8 65.80 893.9 66.05 894.0 66.30 894.0 66.55 893.9 66.80 893.9 67.05 894.0 67.30 894.0 67.55 893.9 67.80 894.0 68.05 893.8 68.30 893.9 68.55 893.8 68.80 893.9 69.05 893.8 69.30 893.9 69.55 893.8 69.80 893.8 70.05 893.7 70.30 893.8 70.55 893.6 70.80 893.8 71.05 893.8 71.30 893.7 71.55 893.8 71.80 893.8 72.05 894.0 72.30 893.9 72.55 894.0 72.80 894.0 73.05 894.0 73.30 893.9 73.55 893.8 73.80 893.8 74.05 894.0 74.30 893.9 74.55 893.9 74.80 894.0 75.05 894.0 75.30 894.0 75.55 894.0 75.80 894.0 76.05 893.9 76.30 893.9 76.55 894.0 76.80 894.0 77.05 893.8 77.30 893.9 77.55 893.8 77.80 894.0 78.05 893.9 78.30 893.9 78.55 893.9 78.80 893.9 79.05 893.8 79.30 893.9 79.55 894.0 79.80 893.9 80.05 893.9 80.30 894.0 80.55 893.9 80.80 893.8 81.05 893.9 81.25 894.0 81.30 893.9 81.55 893.9 81.80 893.9 82.05 894.0 82.30 893.9 82.55 893.9 82.80 893.9 83.05 894.0 83.30 893.8 83.55 893.8 83.80 893.9 84.05 893.9 84.30 893.7 84.55 893.9 84.80 893.9 85.05 893.9 85.30 893.8 85.55 893.8 85.80 893.9 86.05 893.9 86.30 893.9 86.55 893.9 86.80 893.8 87.05 893.8 87.30 893.6 87.55 893.8 87.80 893.7 88.05 893.8 88.30 893.8 88.55 893.7 88.80 893.7 89.05 893.5 89.30 893.6 89.55 893.6 89.80 893.4 90.05 893.4 90.30 893.3 90.55 893.1 90.80 893.0 91.05 892.6 91.30 892.4 91.55 891.7 91.80 889.3 92.05 882.7 92.30 866.4 92.55 835.1 92.80 791.5 93.05 752.5 93.25 740.4 93.30 741.1 93.55 766.0 93.80 809.6 94.05 849.6 94.30 874.6 94.55 886.3 94.80 890.5 95.05 892.0 95.30 892.3 95.55 892.4 95.80 892.6 96.05 892.7 96.30 892.9 96.55 892.9 96.80 893.0 97.05 892.7 97.30 892.8 97.55 892.7 97.80 892.4 98.05 892.0 98.30 891.5 98.55 889.5 98.80 883.2 99.05 867.2 99.30 837.0 99.55 795.0 99.80 756.9 100.00 745.5 100.05 746.3 100.30 770.1 100.55 812.6 100.80 851.1 101.05 875.2 101.30 886.4 101.55 890.6 101.80 892.0 102.05 892.4 102.30 892.8 102.55 892.7 102.80 892.9 103.05 893.1 103.30 893.1 103.55 893.2 103.80 893.1 104.05 893.2 104.30 893.2 104.55 893.1 104.80 893.1 105.05 892.8 105.30 892.5 105.55 891.7 105.80 888.6 106.05 881.1 106.30 866.6 106.55 846.4 106.80 828.1 107.00 822.7 107.05 822.8 107.30 834.6 107.55 854.9 107.80 873.3 108.05 884.8 108.30 890.3 108.55 892.3 108.80 892.8 109.05 893.2 109.30 893.4 109.55 893.5 109.80 893.5 110.05 893.5 110.30 893.6 110.55 893.7 110.80 893.8 111.05 893.5 111.30 893.6 111.55 893.5 111.80 893.5 112.05 893.5 112.30 893.3 112.55 892.1 112.80 889.8 113.05 885.5 113.30 879.1 113.55 873.5 113.75 871.9 113.80 871.9 114.05 875.4 114.30 881.8 114.55 887.6 114.80 891.0 115.05 892.7 115.30 893.5 115.55 893.5 115.80 893.6 116.05 893.7 116.30 893.7 116.55 893.8 116.80 893.8 117.05 893.7 117.30 893.6 117.55 893.6 117.80 893.8 118.05 893.7 118.30 893.8 118.55 893.8 118.80 893.7 119.05 893.9 119.30 893.8 119.55 893.5 119.80 892.8 120.05 891.4 120.30 889.5 120.55 887.9 120.75 887.3 120.80 887.4 121.05 888.6 121.30 890.3 121.55 892.2 121.80 893.1 122.05 893.7 122.30 893.8 122.55 893.9 122.80 893.7 123.05 894.0 123.30 893.9 123.55 893.9 123.80 893.9 124.05 893.9 124.30 893.7 124.55 893.7 124.80 893.6 125.05 893.7 125.30 893.6 125.55 893.7 125.80 893.9 126.05 893.9 126.30 893.9 126.55 893.8 126.80 893.7 127.05 893.7 127.30 893.3 127.55 892.9 127.80 892.3 128.00 892.2 128.05 892.2 128.30 892.5 128.55 893.0 128.80 893.4 129.05 893.6 129.30 894.0 129.55 893.8 129.80 893.9 130.05 893.8 130.30 894.0 130.55 894.0 130.80 893.8 131.05 893.8 131.30 894.0 131.55 894.0 131.80 894.0 132.05 894.0 132.30 893.8 132.55 893.9 132.80 893.9 133.05 893.8 133.30 893.9 133.55 893.8 133.80 893.7 134.05 893.6 134.30 893.3 134.55 892.6 134.80 892.1 135.00 891.9 135.05 891.9 135.30 892.3 135.55 892.8 135.80 893.3 136.05 893.6 136.30 893.7 136.55 893.9 136.80 893.8 137.05 893.8 137.30 893.8 137.55 893.7 137.80 893.7 138.05 893.7 138.30 893.8 138.55 893.8 138.80 893.8 139.05 893.9 139.30 893.8 139.55 893.8 139.80 893.9 140.05 893.8 140.30 894.0 140.55 894.0 140.80 893.8 141.05 893.9 141.30 894.0 141.55 893.8 141.80 893.6 142.05 893.2 142.30 892.9 142.50 893.1 142.55 892.9 142.80 893.0 143.05 893.5 143.30 893.7 143.55 893.9 143.80 893.9 144.05 893.9 144.30 893.9 144.55 894.0 144.80 893.9 145.05 893.9 145.30 893.9 145.55 893.9 145.80 893.8 146.05 893.8 146.30 893.9 146.55 893.8 146.80 893.8 147.05 893.8 147.30 893.9 147.55 893.9 147.80 894.0 148.05 893.8 148.30 893.9 148.55 893.9 148.80 893.8 149.05 893.7 149.30 893.8 149.50 893.6 149.55 893.7 149.80 893.7 150.05 893.9 150.30 893.8 150.55 893.8 150.80 893.9 151.05 893.8 151.30 893.8 151.55 893.9 151.80 893.8 152.05 894.0 152.30 894.0 152.55 893.8 152.80 893.8 153.05 893.9 153.30 893.7 153.55 893.9 153.80 893.7 154.05 893.7 154.30 893.8 154.55 893.9 154.80 893.6 155.05 893.3 155.30 892.8 155.55 891.2 155.80 889.2 156.05 887.4 156.25 887.0 156.30 886.8 156.55 888.0 156.80 890.0 157.05 892.0 157.30 893.1 157.55 893.5 157.80 893.7 158.05 893.9 158.30 893.7 158.55 893.9 158.80 893.8 159.05 893.8 159.30 894.0 159.55 894.0 159.80 893.9 160.05 893.9 160.30 893.8 160.55 893.9 160.80 893.9 161.05 894.0 161.30 893.9 161.55 893.7 161.80 893.9 162.05 893.7 162.30 893.1 162.55 892.3 162.80 890.8 163.05 889.8 163.25 889.5 163.30 889.4 163.55 890.1 163.80 891.4 164.05 892.7 164.30 893.2 164.55 893.8 164.80 893.9 165.05 893.9 165.30 893.8 165.55 893.9 165.80 893.8 166.05 893.9 166.30 893.9 166.55 893.8 166.80 893.8 167.05 893.7 167.30 893.7 167.55 893.5 167.80 893.6 168.05 893.8 168.30 893.6 168.55 893.9 168.80 893.7 169.05 893.8 169.30 893.5 169.55 893.1 169.80 892.2 170.05 891.0 170.30 889.8 170.50 889.4 170.55 889.5 170.80 890.2 171.05 891.5 171.30 892.5 171.55 893.4 171.80 893.8 172.05 893.9 172.30 893.9 172.55 893.9 172.80 893.9 173.05 894.0 173.30 893.8 173.55 894.0 173.80 893.9 174.05 894.0 174.30 893.9 174.55 893.9 174.80 893.9 175.05 894.0 175.30 894.0 175.55 894.0 175.80 893.8 176.05 893.9 176.30 893.5 176.55 893.0 176.80 892.0 177.05 890.3 177.30 889.0 177.50 888.8 177.55 888.8 177.80 889.5 178.05 891.1 178.30 892.3 178.55 893.2 178.80 893.6 179.05 893.9 179.30 893.8 179.55 893.7 179.80 893.9 180.05 893.8 180.30 893.8 180.55 893.9 180.80 893.8 181.05 893.8 181.30 893.7 181.55 893.7 181.80 893.8 182.05 893.9 182.30 893.8 182.55 893.8 182.80 893.9 183.05 894.0 183.30 894.0 183.55 893.8 183.80 894.0 184.05 893.9 184.30 893.8 184.50 893.9 184.55 893.9 184.80 893.9 185.05 893.9 185.30 894.0 185.55 894.0 185.80 893.8 186.05 894.0 186.30 893.8 186.55 893.9 186.80 894.0 187.05 894.0 187.30 894.0 187.55 893.8 187.80 893.9 188.05 894.0 188.30 894.0 188.55 894.0 188.80 893.9 189.05 894.0 189.30 894.0 189.55 894.0 189.80 894.0 190.05 893.9 190.30 893.9 190.55 894.0 190.80 894.0 191.05 894.0 191.30 894.0 191.55 893.8 191.80 893.8 192.05 893.9 192.30 893.8 192.55 894.0 192.80 894.0 193.05 894.0 193.30 893.9 193.55 894.0 193.80 893.8 194.05 893.8 194.30 893.9 194.55 893.9 194.80 894.0 195.05 894.0 195.30 893.9 195.55 894.0 195.80 893.9 196.05 894.0 196.30 893.9 196.55 893.8 196.80 893.9 197.05 894.0 197.30 894.0 197.55 893.9 197.80 893.9 198.00 893.8 198.05 894.0 198.30 893.9 198.55 894.0 198.80 893.9 199.05 893.9 199.30 893.9 199.55 894.0 199.80 893.9 200.05 894.0 200.30 893.9 200.55 893.9 200.80 894.0 201.05 893.9 201.30 893.9 201.55 893.9 201.80 894.0 202.05 894.0 202.30 893.8 202.55 894.0 202.80 894.0 203.05 894.1 203.30 893.8 203.55 894.0 203.80 893.9 204.05 894.0 204.30 893.9 204.55 893.9 204.80 893.9 205.00 893.9 205.05 893.8 205.30 893.8 205.55 894.0 205.80 893.8 206.05 893.9 206.30 894.1 206.55 893.9 206.80 893.8 207.05 893.9 207.30 894.0 207.55 893.9 207.80 894.0 208.05 894.0 208.30 894.0 208.55 893.9 208.80 893.9 209.05 894.0 209.30 893.9 209.55 894.0 209.80 893.8 210.05 894.0 210.30 894.0 210.55 893.9 210.80 894.0 211.05 893.8 211.30 894.0 211.55 893.9 211.80 894.0 212.05 893.9 212.30 893.8 212.55 893.8 212.80 893.9 213.05 893.7 213.30 893.9 213.55 893.9 213.80 893.8 214.05 893.8 214.30 893.9 214.55 893.9 214.80 893.9 215.05 894.0 215.30 893.9 215.55 894.0 215.80 893.8 216.05 893.9 216.30 894.0 216.55 893.9 216.80 894.0 217.05 893.9 217.30 893.8 217.55 894.0 217.80 893.9 218.05 894.0 218.30 893.9 218.55 893.9 218.80 893.9 219.05 893.9 219.30 893.9 219.55 893.9 219.80 893.8 220.05 893.8 220.30 894.0 220.55 893.9 220.80 893.8 221.05 893.7 221.30 893.9 221.55 893.9 221.80 893.8 222.05 893.8 222.30 894.0 222.55 894.0 222.80 893.9 223.05 894.0 223.30 894.0 223.55 894.0 223.80 894.0 224.05 893.9 224.30 893.9 224.55 894.0 224.80 893.9 225.05 893.9 225.30 893.9 225.55 894.0 225.80 893.8 226.05 893.9 226.30 893.9 226.55 893.9 226.80 893.8 227.05 893.8 227.30 893.9 227.55 893.9 227.80 894.0 228.05 894.0 228.30 893.9 228.55 893.7 228.80 893.8 229.05 893.8 229.30 893.7 229.55 893.8 229.80 893.8 230.05 893.8 230.30 893.7 230.55 893.9 230.80 893.9 231.05 893.9 231.30 894.0 231.55 894.0 231.80 894.0 232.05 894.0 232.30 894.0 232.55 894.0 232.80 893.9 233.05 893.9 233.30 894.0 233.55 894.0 233.80 894.1 234.05 893.8 234.30 893.9 234.55 894.0 234.80 893.9 235.05 894.0 235.30 893.8 235.55 893.8 235.80 893.9 236.05 893.9 236.30 894.0 236.55 893.8 236.80 894.0 237.05 893.9 237.30 893.8 237.55 893.8 237.80 894.0 238.05 894.0"/>
<rect class="fr" x="53.40" y="712.90" width="185.35" height="183.10"/>
<line class="ti" x1="47.60" y1="895.25" x2="53.40" y2="895.25"/>
<text class="tk" x="45.70" y="899.35" text-anchor="end">0</text>
<line class="ti" x1="47.60" y1="844.55" x2="53.40" y2="844.55"/>
<text class="tk" x="45.70" y="848.65" text-anchor="end">1000</text>
<line class="ti" x1="47.60" y1="793.85" x2="53.40" y2="793.85"/>
<text class="tk" x="45.70" y="797.95" text-anchor="end">2000</text>
<line class="ti" x1="47.60" y1="743.15" x2="53.40" y2="743.15"/>
<text class="tk" x="45.70" y="747.25" text-anchor="end">3000</text>
<line class="ti" x1="60.00" y1="896.00" x2="60.00" y2="899.60"/>
<text class="tk" x="60.00" y="917.50" text-anchor="middle">1600</text>
<line class="ti" x1="94.25" y1="896.00" x2="94.25" y2="899.60"/>
<text class="tk" x="94.25" y="917.50" text-anchor="middle">1605</text>
<line class="ti" x1="128.50" y1="896.00" x2="128.50" y2="899.60"/>
<text class="tk" x="128.50" y="917.50" text-anchor="middle">1610</text>
<line class="ti" x1="162.75" y1="896.00" x2="162.75" y2="899.60"/>
<text class="tk" x="162.75" y="917.50" text-anchor="middle">1615</text>
<line class="ti" x1="197.00" y1="896.00" x2="197.00" y2="899.60"/>
<text class="tk" x="197.00" y="917.50" text-anchor="middle">1620</text>
<line class="ti" x1="231.25" y1="896.00" x2="231.25" y2="899.60"/>
<text class="tk" x="231.25" y="917.50" text-anchor="middle">1625</text>
<text x="185.60" y="735.25" font-size="12.60" text-anchor="middle">Control</text>
<text x="189.40" y="750.25" font-size="12.60" text-anchor="middle">Peptide # 26</text>
<text class="mz" x="143.30" y="939.50" text-anchor="middle">m/z</text>
<text class="lt" x="0.40" y="725.60">G</text>
<text class="ax" style="letter-spacing:0.50px" transform="translate(17.00 799.00) rotate(-90)" text-anchor="middle">Intensity</text>
</g>
<g id="panelH">
<path class="cv" d="M326.90 888.1 327.15 888.0 327.40 885.0 327.65 883.8 327.90 881.4 328.15 880.8 328.40 877.0 328.65 873.1 328.90 871.8 329.15 869.5 329.25 871.7 329.40 869.5 329.65 873.8 329.90 875.1 330.15 879.1 330.40 879.5 330.65 882.2 330.90 883.2 331.15 885.0 331.40 885.4 331.65 887.2 331.90 886.0 332.15 886.8 332.40 887.7 332.65 885.2 332.90 885.8 333.15 884.9 333.40 883.8 333.65 881.7 333.90 882.7 334.15 881.5 334.40 882.7 334.65 885.8 334.90 886.4 335.15 884.4 335.40 884.2 335.65 881.1 335.90 878.0 336.15 877.4 336.40 875.0 336.65 872.6 336.75 873.9 336.90 874.4 337.15 873.9 337.40 876.2 337.65 878.3 337.90 881.2 338.15 884.0 338.40 884.6 338.65 885.2 338.90 886.5 339.15 888.1 339.40 887.9 339.65 887.4 339.90 885.9 340.15 886.1 340.40 885.7 340.65 884.7 340.90 886.9 341.15 885.3 341.40 885.9 341.65 884.3 341.90 882.0 342.15 881.9 342.40 877.4 342.65 877.7 342.90 874.3 343.15 873.4 343.25 874.2 343.40 873.4 343.65 874.9 343.90 877.1 344.15 878.6 344.40 883.1 344.65 884.0 344.90 884.2 345.15 887.2 345.40 885.5 345.65 887.6 345.90 885.7 346.15 886.5 346.40 884.9 346.65 884.6 346.90 885.7 347.15 884.5 347.40 886.0 347.65 886.0 347.90 886.7 348.15 886.4 348.40 885.8 348.65 885.5 348.90 882.3 349.15 883.1 349.40 879.1 349.65 877.9 349.90 878.3 350.00 877.4 350.15 877.8 350.40 878.9 350.65 881.2 350.90 882.8 351.15 884.2 351.40 885.7 351.65 884.8 351.90 887.3 352.15 887.6 352.40 887.5 352.65 886.0 352.90 886.6 353.15 885.9 353.40 886.5 353.65 886.4 353.90 887.2 354.15 886.9 354.40 886.6 354.65 884.2 354.90 884.2 355.15 883.9 355.40 881.0 355.65 880.2 355.90 877.3 356.15 876.7 356.25 875.3 356.40 877.3 356.65 876.5 356.90 880.0 357.15 879.6 357.40 882.5 357.65 885.9 357.90 884.7 358.15 887.2 358.40 887.5 358.65 888.4 358.90 886.4 359.15 888.7 359.40 886.5 359.65 887.2 359.90 885.8 360.15 886.1 360.40 885.8 360.65 882.0 360.90 881.7 361.15 882.2 361.40 879.1 361.50 879.3 361.65 881.5 361.90 882.5 362.15 881.6 362.40 884.0 362.65 883.1 362.90 884.5 363.15 884.1 363.40 884.6 363.65 883.6 363.90 882.2 364.15 879.7 364.40 870.9 364.65 851.3 364.90 815.2 365.15 768.5 365.40 732.0 365.50 730.4 365.65 737.7 365.90 777.1 366.15 822.3 366.40 856.0 366.65 872.6 366.90 881.2 367.15 884.2 367.40 884.5 367.65 884.8 367.90 884.7 368.15 886.9 368.40 885.3 368.65 885.1 368.90 885.2 369.15 887.8 369.40 887.0 369.65 885.6 369.90 885.1 370.15 887.2 370.40 885.6 370.65 883.5 370.90 880.7 371.15 874.1 371.40 858.4 371.65 827.7 371.90 790.4 372.15 761.6 372.25 758.3 372.40 763.6 372.65 796.4 372.90 834.8 373.15 862.7 373.40 876.9 373.65 881.8 373.90 884.8 374.15 886.6 374.40 885.2 374.65 886.3 374.90 885.4 375.15 887.0 375.40 886.9 375.65 887.6 375.90 887.0 376.15 886.1 376.40 885.9 376.65 886.8 376.90 887.4 377.15 888.3 377.40 885.6 377.65 886.4 377.90 884.9 378.15 881.8 378.40 872.4 378.65 854.3 378.90 830.8 379.15 815.7 379.25 814.1 379.40 817.9 379.65 837.3 379.90 859.0 380.15 873.2 380.40 883.0 380.65 884.8 380.90 886.3 381.15 886.8 381.40 888.4 381.65 888.8 381.90 887.8 382.15 888.9 382.40 887.5 382.65 888.5 382.90 887.6 383.15 887.2 383.40 887.7 383.65 887.9 383.90 888.9 384.15 888.4 384.40 886.4 384.65 888.3 384.90 887.8 385.15 885.8 385.40 882.6 385.65 876.3 385.90 870.8 386.15 863.6 386.25 865.9 386.40 864.7 386.65 871.3 386.90 877.2 387.15 884.5 387.40 885.5 387.65 885.8 387.90 887.0 388.15 888.8 388.40 886.4 388.65 886.1 388.90 888.6 389.15 886.0 389.40 887.5 389.65 886.4 389.90 882.7 390.15 881.0 390.40 878.1 390.65 876.9 390.90 875.4 391.15 875.2 391.25 874.2 391.40 873.1 391.65 875.3 391.90 876.5 392.15 880.8 392.40 881.3 392.65 883.2 392.90 886.6 393.15 885.2 393.40 887.7 393.65 887.6 393.90 887.9 394.15 885.7 394.40 887.1 394.65 884.7 394.90 888.0 395.15 885.8 395.40 886.2 395.65 886.7 395.90 886.3 396.15 884.7 396.40 883.9 396.65 883.4 396.90 879.0 397.15 877.5 397.40 874.1 397.65 872.0 397.90 869.6 398.00 871.0 398.15 869.9 398.40 873.7 398.65 875.4 398.90 877.1 399.15 880.1 399.40 881.8 399.65 885.5 399.90 885.0 400.15 885.9 400.40 888.3 400.65 888.6 400.90 887.3 401.15 885.8 401.40 886.4 401.65 886.0 401.90 884.7 402.15 882.8 402.40 883.3 402.65 883.7 402.90 884.3 403.15 884.1 403.40 884.9 403.65 884.7 403.90 885.6 404.15 883.2 404.40 880.6 404.65 878.8 404.90 875.9 405.15 874.2 405.40 875.6 405.50 874.4 405.65 875.0 405.90 876.7 406.15 877.7 406.40 878.4 406.65 881.2 406.90 885.1 407.15 886.0 407.40 886.5 407.65 885.4 407.90 886.6 408.15 886.8 408.40 884.7 408.65 884.5 408.90 884.5 409.15 882.9 409.40 882.4 409.65 883.9 409.90 884.5 410.15 886.1 410.40 884.0 410.65 882.2 410.90 879.6 411.15 878.0 411.40 876.7 411.65 871.9 411.90 872.8 412.00 871.2 412.15 872.3 412.40 872.7 412.65 876.3 412.90 879.7 413.15 881.2 413.40 883.2 413.65 883.9 413.90 886.3 414.15 886.3 414.40 887.7 414.65 886.9 414.90 888.7 415.15 886.6 415.40 886.4 415.65 889.2 415.90 886.6 416.15 886.7 416.40 886.6 416.65 887.9 416.90 885.1 417.15 883.7 417.40 882.4 417.65 879.1 417.90 876.5 418.15 874.9 418.40 871.9 418.65 873.2 418.75 872.6 418.90 872.1 419.15 873.5 419.40 874.4 419.65 878.0 419.90 880.6 420.15 882.8 420.40 883.5 420.65 886.3 420.90 886.1 421.15 887.0 421.40 887.8 421.65 888.0 421.90 888.3 422.15 888.2 422.40 886.4 422.65 885.7 422.90 885.8 423.15 884.4 423.40 885.1 423.65 883.7 423.90 884.2 424.15 884.0 424.40 882.2 424.65 882.2 424.90 880.6 425.15 876.9 425.40 876.3 425.65 873.0 425.75 874.6 425.90 873.4 426.15 876.6 426.40 878.9 426.65 879.5 426.90 881.4 427.15 884.6 427.40 884.0 427.65 884.8 427.90 886.2 428.15 885.5 428.40 885.1 428.65 886.9 428.90 884.0 429.15 882.9 429.40 882.2 429.65 883.5 429.90 883.6 430.15 884.3 430.40 884.0 430.65 886.2 430.90 884.2 431.15 882.6 431.40 878.7 431.65 877.9 431.90 875.2 432.15 872.7 432.40 871.5 432.50 870.4 432.65 869.3 432.90 872.4 433.15 875.7 433.40 876.8 433.65 880.7 433.90 882.4 434.15 883.7 434.40 885.8 434.65 885.7 434.90 886.2 435.15 885.4 435.40 885.4 435.65 884.7 435.90 885.3 436.15 887.1 436.40 886.9 436.65 886.4 436.90 886.6 437.15 886.8 437.40 886.1 437.65 885.6 437.90 885.6 438.15 884.1 438.40 884.3 438.65 881.1 438.90 878.6 439.15 876.6 439.40 876.0 439.50 877.1 439.65 877.9 439.90 876.9 440.15 879.2 440.40 882.4 440.65 884.6 440.90 883.6 441.15 885.7 441.40 887.8 441.65 885.5 441.90 886.5 442.15 885.4 442.40 884.2 442.65 884.7 442.90 883.0 443.15 884.1 443.40 883.5 443.65 885.3 443.90 885.4 444.15 888.3 444.40 888.6 444.65 888.2 444.90 889.4 445.15 888.2 445.40 886.4 445.65 886.5 445.90 888.4 446.15 886.1 446.40 887.5 446.65 886.1 446.90 881.5 447.15 874.7 447.40 860.8 447.65 843.1 447.90 829.7 448.00 828.3 448.15 829.1 448.40 846.9 448.65 863.1 448.90 877.0 449.15 882.2 449.40 887.2 449.65 887.1 449.90 886.5 450.15 888.9 450.40 887.9 450.65 888.3 450.90 887.8 451.15 887.4 451.40 889.1 451.65 886.7 451.90 888.5 452.15 887.0 452.40 888.8 452.65 888.8 452.90 888.3 453.15 888.4 453.40 887.3 453.65 886.4 453.90 883.1 454.15 872.9 454.40 859.6 454.65 841.5 454.90 828.2 455.00 825.9 455.15 831.3 455.40 846.5 455.65 862.5 455.90 877.5 456.15 882.8 456.40 885.3 456.65 885.7 456.90 888.7 457.15 887.8 457.40 888.2 457.65 887.6 457.90 889.3 458.15 887.2 458.40 886.6 458.65 887.9 458.90 887.5 459.15 887.0 459.40 886.9 459.65 886.8 459.90 887.7 460.15 888.7 460.40 885.8 460.65 883.7 460.90 879.7 461.15 872.9 461.40 860.7 461.65 854.3 461.75 854.5 461.90 854.8 462.15 865.0 462.40 875.0 462.65 880.3 462.90 886.7 463.15 885.8 463.40 887.8 463.65 887.6 463.90 887.3 464.15 886.8 464.40 888.9 464.65 889.4 464.90 888.2 465.15 889.1 465.40 888.5 465.65 889.4 465.90 889.5 466.15 888.0 466.40 889.5 466.65 888.8 466.90 888.3 467.15 889.0 467.40 886.3 467.65 884.6 467.90 884.1 468.15 876.1 468.40 870.8 468.65 863.8 468.75 865.3 468.90 864.4 469.15 869.9 469.40 879.0 469.65 884.5 469.90 886.6 470.15 886.0 470.40 886.3 470.65 887.9 470.90 885.1 471.15 885.1 471.40 884.2 471.65 884.2 471.90 887.1 472.15 885.8 472.40 888.1 472.65 887.5 472.90 885.8 473.15 885.7 473.40 884.4 473.65 882.3 473.90 880.4 474.15 877.7 474.40 878.0 474.50 878.1 474.65 877.7 474.90 880.2 475.15 879.7 475.40 881.5 475.65 882.9 475.90 885.4 476.15 886.2 476.40 888.3 476.65 887.6 476.90 887.4 477.15 886.6 477.40 886.9 477.65 888.6 477.90 887.3 478.15 887.0 478.40 886.7 478.65 887.4 478.90 888.3 479.15 886.3 479.40 888.4 479.65 885.9 479.90 885.1 480.15 882.4 480.40 881.6 480.65 881.2 480.90 880.0 481.15 879.7 481.25 877.5 481.40 877.5 481.65 879.6 481.90 881.5 482.15 882.1 482.40 884.8 482.65 885.1 482.90 886.7 483.15 887.6 483.40 886.9 483.65 888.6 483.90 888.5 484.15 887.9 484.40 886.7 484.65 889.2 484.90 888.7 485.15 888.7 485.40 888.5 485.65 887.7 485.90 886.3 486.15 887.7 486.40 885.1 486.65 884.7 486.90 882.7 487.15 881.1 487.40 879.0 487.65 878.8 487.90 876.7 488.00 877.3 488.15 876.3 488.40 877.8 488.65 879.9 488.90 880.0 489.15 884.2 489.40 886.2 489.65 887.1 489.90 886.1 490.15 888.2 490.40 886.1 490.65 887.4 490.90 885.6 491.15 883.3 491.40 884.1 491.65 882.7 491.90 881.7 492.15 883.8 492.40 886.1 492.65 885.4 492.90 886.8 493.15 885.9 493.40 886.7 493.65 885.7 493.90 883.5 494.15 881.9 494.40 880.7 494.65 881.2 494.90 879.8 495.00 880.1 495.15 880.4 495.40 881.5 495.65 880.8 495.90 884.1 496.15 884.8 496.40 886.9 496.65 885.5 496.90 885.9 497.15 887.3 497.40 884.1 497.65 883.4 497.90 883.9 498.15 884.1 498.40 885.1 498.65 888.0 498.90 887.9 499.15 888.4 499.40 889.1 499.65 887.0 499.90 886.7 500.15 886.7 500.40 884.4 500.65 884.7 500.90 883.1 501.15 882.1 501.40 880.5 501.65 878.0 501.75 879.0 501.90 878.4 502.15 878.8 502.40 880.7 502.65 883.1 502.90 882.7 503.15 886.5 503.40 886.3 503.65 885.2 503.90 885.6 504.15 886.2 504.40 884.2 504.65 884.0 504.90 884.2 505.15 886.0 505.40 885.2 505.65 885.3 505.90 884.3 506.15 884.3 506.40 881.5 506.65 880.4 506.90 880.2 507.15 877.6 507.40 878.0 507.50 876.6 507.65 877.7 507.90 876.6 508.15 880.2 508.40 880.6 508.65 882.3 508.90 885.3 509.15 885.8 509.40 887.8 509.65 887.9 509.90 888.0"/>
<rect class="fr" x="326.00" y="710.75" width="184.50" height="184.75"/>
<line class="ti" x1="319.80" y1="893.75" x2="326.00" y2="893.75"/>
<text class="tk" x="316.20" y="897.85" text-anchor="end">0</text>
<line class="ti" x1="319.80" y1="842.85" x2="326.00" y2="842.85"/>
<text class="tk" x="316.20" y="846.95" text-anchor="end">1000</text>
<line class="ti" x1="319.80" y1="791.95" x2="326.00" y2="791.95"/>
<text class="tk" x="316.20" y="796.05" text-anchor="end">2000</text>
<line class="ti" x1="319.80" y1="741.05" x2="326.00" y2="741.05"/>
<text class="tk" x="316.20" y="745.15" text-anchor="end">3000</text>
<line class="ti" x1="332.50" y1="895.50" x2="332.50" y2="899.10"/>
<text class="tk" x="332.50" y="915.50" text-anchor="middle">1600</text>
<line class="ti" x1="367.00" y1="895.50" x2="367.00" y2="899.10"/>
<text class="tk" x="367.00" y="915.50" text-anchor="middle">1605</text>
<line class="ti" x1="401.50" y1="895.50" x2="401.50" y2="899.10"/>
<text class="tk" x="401.50" y="915.50" text-anchor="middle">1610</text>
<line class="ti" x1="436.00" y1="895.50" x2="436.00" y2="899.10"/>
<text class="tk" x="436.90" y="915.50" text-anchor="middle">1615</text>
<line class="ti" x1="470.50" y1="895.50" x2="470.50" y2="899.10"/>
<text class="tk" x="472.90" y="915.50" text-anchor="middle" style="letter-spacing:-1.35px">16200</text>
<line class="ti" x1="505.00" y1="895.50" x2="505.00" y2="899.10"/>
<text class="tk" x="502.70" y="915.50" text-anchor="middle">1625</text>
<text x="460.00" y="732.00" font-size="12.60" text-anchor="middle">Diabetic</text>
<text x="461.90" y="746.50" font-size="12.60" text-anchor="middle">Peptide # 26</text>
<text class="mz" x="417.05" y="938.75" text-anchor="middle">m/z</text>
<text class="lt" x="269.80" y="725.75">H</text>
<text class="ax" style="letter-spacing:0.35px" transform="translate(286.00 798.20) rotate(-90)" text-anchor="middle">Intensity</text>
</g>
</svg></body></html>
